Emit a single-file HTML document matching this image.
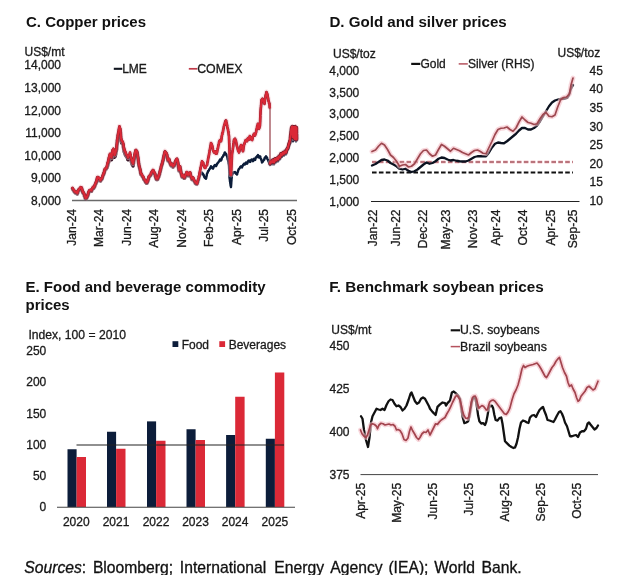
<!DOCTYPE html>
<html><head><meta charset="utf-8"><title>Commodity prices</title>
<style>html,body{margin:0;padding:0;background:#fff;}body{width:640px;height:575px;overflow:hidden;}svg{display:block;filter:blur(0.35px);}text{font-family:"Liberation Sans",sans-serif;fill:#1a1a1a;stroke:#1a1a1a;stroke-width:0.3px;}.t{font-weight:bold;font-size:15px;fill:#111;stroke:none;}.a{font-size:12px;}.s{font-size:15.7px;fill:#111;stroke:#111;stroke-width:0.3px;}</style></head><body>
<svg width="640" height="575" viewBox="0 0 640 575">
<rect width="640" height="575" fill="#ffffff"/>
<text x="26" y="27" class="t" text-anchor="start" >C. Copper prices</text>
<text x="24.5" y="55.5" class="a" text-anchor="start" >US$/mt</text>
<text x="61" y="69.3" class="a" text-anchor="end" >14,000</text>
<text x="61" y="91.9" class="a" text-anchor="end" >13,000</text>
<text x="61" y="114.5" class="a" text-anchor="end" >12,000</text>
<text x="61" y="137.10000000000002" class="a" text-anchor="end" >11,000</text>
<text x="61" y="159.7" class="a" text-anchor="end" >10,000</text>
<text x="61" y="182.3" class="a" text-anchor="end" >9,000</text>
<text x="61" y="204.90000000000003" class="a" text-anchor="end" >8,000</text>
<line x1="72" y1="200.6" x2="297" y2="200.6" stroke="#6a6a6a" stroke-width="1.5"/>
<path d="M72.50,188.75 L72.88,189.42 L73.25,190.09 L73.62,190.66 L74.00,190.75 L74.38,191.87 L74.75,192.09 L75.12,192.84 L75.50,192.75 L76.00,192.42 L76.50,193.37 L77.00,193.75 L77.25,193.87 L77.50,192.96 L77.75,192.81 L78.00,191.21 L78.25,191.21 L78.50,190.75 L78.88,189.90 L79.25,189.81 L79.62,189.35 L80.00,188.75 L80.75,187.82 L81.50,188.25 L81.67,188.44 L81.83,189.11 L82.00,190.58 L82.17,190.96 L82.33,190.69 L82.50,191.75 L82.80,192.72 L83.10,192.34 L83.40,193.56 L83.70,193.43 L84.00,194.50 L84.20,194.35 L84.40,196.12 L84.60,195.74 L84.80,196.30 L85.00,197.25 L85.33,198.43 L85.67,198.77 L86.00,198.75 L86.30,197.96 L86.60,198.40 L86.90,197.30 L87.20,197.00 L87.50,196.25 L87.67,195.25 L87.83,195.70 L88.00,194.77 L88.17,194.57 L88.33,193.88 L88.50,192.75 L88.88,191.97 L89.25,191.56 L89.62,190.78 L90.00,190.75 L90.75,190.50 L91.50,191.25 L91.75,190.02 L92.00,189.72 L92.25,189.52 L92.50,188.75 L93.00,187.72 L93.50,188.33 L94.00,187.75 L94.25,186.90 L94.50,186.23 L94.75,186.32 L95.00,185.25 L95.25,184.68 L95.50,183.91 L95.75,183.60 L96.00,183.37 L96.25,181.92 L96.50,182.00 L96.64,182.06 L96.79,180.12 L96.93,180.53 L97.07,180.05 L97.21,178.29 L97.36,178.76 L97.50,177.75 L98.00,177.90 L98.50,178.53 L99.00,178.75 L99.25,178.56 L99.50,179.12 L99.75,179.80 L100.00,180.75 L100.50,180.97 L101.00,179.49 L101.50,179.50 L101.75,179.23 L102.00,178.85 L102.25,178.24 L102.50,177.00 L102.71,176.25 L102.93,175.73 L103.14,175.43 L103.36,175.24 L103.57,173.77 L103.79,174.13 L104.00,173.25 L104.14,173.13 L104.29,172.68 L104.43,170.99 L104.57,171.73 L104.71,170.00 L104.86,169.81 L105.00,169.50 L105.50,169.24 L106.00,169.25 L106.50,168.25 L106.75,167.46 L107.00,167.72 L107.25,166.63 L107.50,166.00 L107.64,165.20 L107.79,164.67 L107.93,163.94 L108.07,163.27 L108.21,162.83 L108.36,163.05 L108.50,162.25 L108.61,162.39 L108.72,160.67 L108.83,159.95 L108.94,160.71 L109.06,159.52 L109.17,158.78 L109.28,157.99 L109.39,157.94 L109.50,157.25 L110.00,157.21 L110.50,156.25 L110.67,156.77 L110.83,157.31 L111.00,157.38 L111.17,159.17 L111.33,158.51 L111.50,159.75 L111.58,159.16 L111.65,159.07 L111.73,157.50 L111.81,157.77 L111.88,157.50 L111.96,156.47 L112.04,156.11 L112.12,154.58 L112.19,154.47 L112.27,153.49 L112.35,153.89 L112.42,152.54 L112.50,152.25 L113.00,151.56 L113.50,151.00 L113.59,152.27 L113.68,152.63 L113.77,153.37 L113.86,153.21 L113.95,153.82 L114.05,154.73 L114.14,154.95 L114.23,155.25 L114.32,155.98 L114.41,156.19 L114.50,157.25 L114.75,156.45 L115.00,156.68 L115.25,156.02 L115.50,154.75 L115.61,154.37 L115.72,153.64 L115.83,152.86 L115.94,151.95 L116.06,151.65 L116.17,151.81 L116.28,151.38 L116.39,150.11 L116.50,149.75 L116.56,149.59 L116.61,149.02 L116.67,148.36 L116.72,147.76 L116.78,147.34 L116.83,146.23 L116.89,146.15 L116.94,145.00 L117.00,144.73 L117.06,144.57 L117.11,143.91 L117.17,142.79 L117.22,143.15 L117.28,142.18 L117.33,141.53 L117.39,140.18 L117.44,140.37 L117.50,139.75 L117.59,138.83 L117.68,138.85 L117.77,137.99 L117.86,137.92 L117.95,137.12 L118.05,136.76 L118.14,135.56 L118.23,135.41 L118.32,134.97 L118.41,134.53 L118.50,133.50 L118.61,132.73 L118.72,132.87 L118.83,132.35 L118.94,131.54 L119.06,131.39 L119.17,130.81 L119.28,129.64 L119.39,129.10 L119.50,128.50 L119.64,128.57 L119.79,130.04 L119.93,130.72 L120.07,130.61 L120.21,131.45 L120.36,132.02 L120.50,132.25 L120.53,133.16 L120.57,132.96 L120.60,134.39 L120.63,134.70 L120.67,135.40 L120.70,135.64 L120.73,136.51 L120.77,137.30 L120.80,137.69 L120.83,138.39 L120.87,138.01 L120.90,138.77 L120.93,139.75 L120.97,140.63 L121.00,141.00 L121.25,141.23 L121.50,142.51 L121.75,143.06 L122.00,143.50 L122.50,143.48 L123.00,144.75 L123.09,145.28 L123.18,145.50 L123.27,145.83 L123.36,146.51 L123.45,147.34 L123.55,147.71 L123.64,148.30 L123.73,148.65 L123.82,149.82 L123.91,150.26 L124.00,151.00 L124.25,151.78 L124.50,152.38 L124.75,152.51 L125.00,153.50 L125.25,154.69 L125.50,154.05 L125.75,155.24 L126.00,156.00 L126.50,156.31 L127.00,157.25 L127.25,157.75 L127.50,157.96 L127.75,159.59 L128.00,159.75 L128.25,158.95 L128.50,157.85 L128.75,158.03 L129.00,157.25 L129.25,156.06 L129.50,156.06 L129.75,155.15 L130.00,154.75 L130.11,155.42 L130.22,156.50 L130.33,156.86 L130.44,156.86 L130.56,157.97 L130.67,158.28 L130.78,158.46 L130.89,158.69 L131.00,159.75 L131.14,160.42 L131.29,160.91 L131.43,162.00 L131.57,162.55 L131.71,162.58 L131.86,162.76 L132.00,163.50 L132.25,164.68 L132.50,164.05 L132.75,164.83 L133.00,166.00 L133.09,165.52 L133.18,165.02 L133.27,163.79 L133.36,163.91 L133.45,163.71 L133.55,162.42 L133.64,161.93 L133.73,161.07 L133.82,160.59 L133.91,160.98 L134.00,159.75 L134.11,159.03 L134.22,159.28 L134.33,158.66 L134.44,157.66 L134.56,156.64 L134.67,157.09 L134.78,155.86 L134.89,155.19 L135.00,154.75 L135.14,153.93 L135.29,154.29 L135.43,153.02 L135.57,152.17 L135.71,151.86 L135.86,150.79 L136.00,150.75 L136.50,151.55 L137.00,152.00 L137.09,152.49 L137.18,152.85 L137.27,154.10 L137.36,154.73 L137.45,154.16 L137.55,155.45 L137.64,155.66 L137.73,157.15 L137.82,157.51 L137.91,157.33 L138.00,158.25 L138.08,158.50 L138.15,158.92 L138.23,160.67 L138.31,160.27 L138.38,161.29 L138.46,161.68 L138.54,162.49 L138.62,163.01 L138.69,163.78 L138.77,163.48 L138.85,164.96 L138.92,164.89 L139.00,165.75 L139.14,166.33 L139.29,166.59 L139.43,167.07 L139.57,167.93 L139.71,168.38 L139.86,168.77 L140.00,169.50 L140.11,170.40 L140.22,170.74 L140.33,170.52 L140.44,171.38 L140.56,172.22 L140.67,173.42 L140.78,173.93 L140.89,174.01 L141.00,174.50 L141.50,174.45 L142.00,175.75 L142.50,176.76 L143.00,177.00 L143.25,177.52 L143.50,178.36 L143.75,179.17 L144.00,179.50 L144.50,180.31 L145.00,180.75 L145.30,181.22 L145.60,182.33 L145.90,182.09 L146.20,182.60 L146.50,183.25 L147.00,183.12 L147.50,182.00 L147.67,181.02 L147.83,180.60 L148.00,180.80 L148.17,179.17 L148.33,179.69 L148.50,178.94 L148.67,178.02 L148.83,177.26 L149.00,177.00 L149.50,176.77 L150.00,175.75 L150.50,175.70 L151.00,174.50 L151.25,173.37 L151.50,173.22 L151.75,172.69 L152.00,172.00 L152.50,171.37 L153.00,170.75 L153.25,171.01 L153.50,171.26 L153.75,172.37 L154.00,172.75 L154.33,173.77 L154.67,173.31 L155.00,174.50 L155.14,174.66 L155.29,176.02 L155.43,176.52 L155.57,176.87 L155.71,176.51 L155.86,178.03 L156.00,178.25 L156.50,179.55 L157.00,179.50 L157.50,179.57 L158.00,178.25 L158.25,177.91 L158.50,176.37 L158.75,176.85 L159.00,175.75 L159.14,174.82 L159.29,174.88 L159.43,174.78 L159.57,173.90 L159.71,172.56 L159.86,172.25 L160.00,172.00 L160.14,172.05 L160.29,170.44 L160.43,170.55 L160.57,169.74 L160.71,168.85 L160.86,168.96 L161.00,168.25 L161.14,167.08 L161.29,166.63 L161.43,166.47 L161.57,165.51 L161.71,164.95 L161.86,165.14 L162.00,164.50 L162.14,164.30 L162.29,163.96 L162.43,162.38 L162.57,162.26 L162.71,161.56 L162.86,161.43 L163.00,160.75 L163.11,160.18 L163.22,160.25 L163.33,158.91 L163.44,157.91 L163.56,158.25 L163.67,156.93 L163.78,157.04 L163.89,156.31 L164.00,155.75 L164.14,155.79 L164.29,154.76 L164.43,154.31 L164.57,153.28 L164.71,153.14 L164.86,152.19 L165.00,152.00 L165.50,152.98 L166.00,153.25 L166.25,153.90 L166.50,153.99 L166.75,154.75 L167.00,155.75 L167.11,156.13 L167.22,157.19 L167.33,156.97 L167.44,158.27 L167.56,158.74 L167.67,158.50 L167.78,159.87 L167.89,159.62 L168.00,160.75 L168.50,159.60 L169.00,159.50 L169.14,160.17 L169.29,160.21 L169.43,161.63 L169.57,161.62 L169.71,161.93 L169.86,163.13 L170.00,163.25 L170.25,163.22 L170.50,164.82 L170.75,164.50 L171.00,165.75 L171.50,164.64 L172.00,164.50 L172.25,165.76 L172.50,166.00 L172.75,165.99 L173.00,167.00 L173.50,165.84 L174.00,165.75 L174.25,165.79 L174.50,164.73 L174.75,164.32 L175.00,163.25 L175.25,162.12 L175.50,162.17 L175.75,161.17 L176.00,160.75 L176.50,159.75 L177.00,159.50 L177.14,159.80 L177.29,160.73 L177.43,160.90 L177.57,161.48 L177.71,161.67 L177.86,163.18 L178.00,163.25 L178.08,164.03 L178.15,164.83 L178.23,164.89 L178.31,166.05 L178.38,166.16 L178.46,166.84 L178.54,167.39 L178.62,168.20 L178.69,168.30 L178.77,168.46 L178.85,168.94 L178.92,169.76 L179.00,170.75 L179.14,169.57 L179.29,170.22 L179.43,169.12 L179.57,168.97 L179.71,167.37 L179.86,167.49 L180.00,167.00 L180.09,168.11 L180.18,168.30 L180.27,168.60 L180.36,169.22 L180.45,169.28 L180.55,169.93 L180.64,170.50 L180.73,171.37 L180.82,171.95 L180.91,173.21 L181.00,173.25 L181.14,173.30 L181.29,173.98 L181.43,174.55 L181.57,174.92 L181.71,175.63 L181.86,176.09 L182.00,177.00 L182.50,176.35 L183.00,175.75 L183.25,175.72 L183.50,177.59 L183.75,177.44 L184.00,178.25 L184.50,178.24 L185.00,177.00 L185.25,176.64 L185.50,175.99 L185.75,175.09 L186.00,174.50 L186.33,174.54 L186.67,172.80 L187.00,172.75 L187.20,173.59 L187.40,173.66 L187.60,174.79 L187.80,175.47 L188.00,175.75 L188.50,174.65 L189.00,174.50 L189.50,173.46 L190.00,173.25 L190.14,173.12 L190.29,173.94 L190.43,174.27 L190.57,175.25 L190.71,176.59 L190.86,176.27 L191.00,177.00 L191.25,177.36 L191.50,178.21 L191.75,178.57 L192.00,179.50 L192.50,179.20 L193.00,178.25 L193.25,179.18 L193.50,179.03 L193.75,179.76 L194.00,180.75 L194.50,181.62 L195.00,182.00 L195.33,183.20 L195.67,183.37 L196.00,183.75" fill="none" stroke="#3a1426" stroke-width="3.5" stroke-linejoin="round" stroke-linecap="round"/>
<path d="M196.00,183.75 L196.50,183.81 L197.00,184.50 L197.25,184.05 L197.50,183.34 L197.75,183.12 L198.00,182.50 L198.14,182.12 L198.29,180.91 L198.43,180.31 L198.57,180.76 L198.71,179.53 L198.86,178.97 L199.00,178.75 L199.14,178.81 L199.29,177.64 L199.43,177.55 L199.57,176.58 L199.71,176.24 L199.86,175.12 L200.00,175.00 L200.50,174.54 L201.00,173.75 L201.50,173.57 L202.00,172.50 L202.50,173.15 L203.00,173.75 L203.25,174.66 L203.50,175.21 L203.75,175.10 L204.00,176.25 L204.33,177.14 L204.67,177.53 L205.00,178.00 L205.50,178.14 L206.00,178.75 L206.11,177.63 L206.22,178.08 L206.33,177.05 L206.44,176.79 L206.56,176.43 L206.67,175.67 L206.78,175.37 L206.89,174.18 L207.00,173.75 L207.25,173.49 L207.50,172.43 L207.75,172.40 L208.00,171.25 L208.50,171.08 L209.00,170.00 L209.50,168.89 L210.00,168.75 L210.25,167.69 L210.50,167.16 L210.75,167.43 L211.00,166.25 L211.50,166.80 L212.00,167.50 L212.50,168.28 L213.00,168.75 L213.25,167.89 L213.50,167.51 L213.75,166.74 L214.00,166.25 L214.50,165.45 L215.00,165.00 L215.50,165.73 L216.00,166.25 L216.25,165.73 L216.50,165.49 L216.75,164.59 L217.00,163.75 L217.50,163.64 L218.00,162.50 L218.50,162.30 L219.00,161.25 L219.33,161.26 L219.67,160.29 L220.00,159.50 L220.50,159.60 L221.00,160.50 L221.20,160.33 L221.40,159.86 L221.60,159.19 L221.80,158.18 L222.00,157.50 L222.50,157.13 L223.00,156.25 L223.33,155.32 L223.67,155.48 L224.00,154.50 L224.25,154.09 L224.50,153.24 L224.75,152.48 L225.00,152.50 L225.50,153.55 L226.00,153.75 L226.25,154.96 L226.50,154.51 L226.75,155.99 L227.00,156.25 L227.14,156.68 L227.29,156.90 L227.43,157.61 L227.57,158.72 L227.71,159.38 L227.86,158.92 L228.00,160.00 L228.11,160.69 L228.22,160.57 L228.33,161.93 L228.44,162.02 L228.56,163.23 L228.67,163.91 L228.78,163.90 L228.89,165.04 L229.00,165.00 L229.02,165.34 L229.05,165.63 L229.07,166.82 L229.09,166.71 L229.11,167.48 L229.14,168.30 L229.16,169.11 L229.18,169.13 L229.20,169.56 L229.23,171.12 L229.25,171.03 L229.27,172.37 L229.30,172.86 L229.32,172.81 L229.34,173.48 L229.36,174.11 L229.39,174.83 L229.41,175.34 L229.43,175.87 L229.45,176.51 L229.48,177.46 L229.50,177.50 L229.58,178.09 L229.65,178.57 L229.73,179.50 L229.81,179.49 L229.88,180.15 L229.96,181.53 L230.04,181.56 L230.12,182.17 L230.19,182.11 L230.27,183.17 L230.35,183.94 L230.42,183.85 L230.50,185.00 L230.67,185.81 L230.83,186.49 L231.00,187.00 L231.04,185.89 L231.08,185.99 L231.12,185.21 L231.17,184.88 L231.21,183.91 L231.25,183.75 L231.29,183.20 L231.33,181.76 L231.38,181.22 L231.42,181.38 L231.46,181.14 L231.50,180.00 L231.56,179.15 L231.61,178.84 L231.67,178.44 L231.72,177.56 L231.78,177.06 L231.83,176.44 L231.89,175.95 L231.94,175.67 L232.00,175.00 L232.25,174.26 L232.50,173.85 L232.75,173.83 L233.00,173.00 L233.50,172.18 L234.00,172.50 L234.50,172.33 L235.00,172.00 L235.33,172.87 L235.67,172.94 L236.00,173.75 L236.50,173.79 L237.00,174.50 L237.17,174.32 L237.33,173.10 L237.50,172.50 L237.67,172.26 L237.83,172.03 L238.00,171.25 L238.25,170.15 L238.50,169.79 L238.75,169.18 L239.00,168.75 L239.50,168.53 L240.00,167.50 L240.50,166.80 L241.00,166.25 L241.50,167.30 L242.00,167.50 L242.25,166.48 L242.50,166.05 L242.75,165.81 L243.00,165.00 L243.50,164.84 L244.00,163.75 L244.50,164.07 L245.00,164.50 L245.25,163.67 L245.50,163.05 L245.75,163.04 L246.00,162.50 L246.50,162.75 L247.00,163.75 L247.25,163.49 L247.50,162.91 L247.75,161.50 L248.00,161.25 L248.50,160.61 L249.00,160.50 L249.33,161.37 L249.67,161.67 L250.00,162.00 L250.25,161.87 L250.50,160.81 L250.75,160.06 L251.00,160.00 L251.50,159.50 L252.00,159.50 L252.33,160.44 L252.67,160.39 L253.00,161.25 L253.25,160.44 L253.50,159.90 L253.75,159.28 L254.00,158.75 L254.50,159.27 L255.00,160.00 L255.25,159.88 L255.50,158.34 L255.75,157.53 L256.00,157.50 L256.50,157.41 L257.00,156.25 L257.50,156.08 L258.00,155.00 L258.25,156.21 L258.50,156.17 L258.75,157.42 L259.00,157.50 L259.50,157.39 L260.00,156.25 L260.25,156.54 L260.50,157.79 L260.75,158.53 L261.00,158.75 L261.14,159.48 L261.29,159.84 L261.43,160.10 L261.57,160.70 L261.71,161.10 L261.86,161.45 L262.00,162.50 L262.50,161.98 L263.00,161.25 L263.50,160.37 L264.00,160.00 L264.25,159.75 L264.50,158.20 L264.75,158.61 L265.00,157.50 L265.50,157.11 L266.00,156.25 L266.50,157.38 L267.00,157.50 L267.25,158.60 L267.50,159.23 L267.75,159.47 L268.00,160.00 L268.25,160.04 L268.50,161.54 L268.75,161.48 L269.00,162.50 L269.25,162.88 L269.50,163.95 L269.75,164.40 L270.00,165.00 L270.25,164.40 L270.50,164.53 L270.75,163.63 L271.00,163.00 L271.50,163.43 L272.00,164.25 L272.25,163.33 L272.50,163.43 L272.75,162.35 L273.00,161.75 L273.25,162.71 L273.50,162.82 L273.75,163.26 L274.00,164.25 L274.14,163.76 L274.29,163.56 L274.43,162.25 L274.57,162.46 L274.71,162.08 L274.86,161.40 L275.00,160.50 L275.33,161.47 L275.67,161.08 L276.00,162.25 L276.25,161.78 L276.50,161.44 L276.75,159.83 L277.00,159.75 L277.33,159.98 L277.67,160.47 L278.00,161.25 L278.17,160.74 L278.33,160.07 L278.50,159.59 L278.67,159.42 L278.83,157.94 L279.00,158.00 L279.50,158.09 L280.00,159.25 L280.14,158.27 L280.29,157.73 L280.43,157.12 L280.57,157.68 L280.71,157.00 L280.86,155.54 L281.00,155.50 L281.50,156.13 L282.00,156.75 L282.25,155.90 L282.50,155.28 L282.75,154.70 L283.00,154.25 L283.50,155.05 L284.00,155.50 L284.25,154.98 L284.50,154.08 L284.75,153.25 L285.00,153.00 L285.50,153.42 L286.00,154.25 L286.17,153.22 L286.33,153.15 L286.50,152.76 L286.67,151.77 L286.83,150.83 L287.00,150.75 L287.50,149.74 L288.00,149.50 L288.17,148.81 L288.33,148.54 L288.50,148.21 L288.67,147.19 L288.83,147.15 L289.00,146.25 L289.25,145.77 L289.50,144.92 L289.75,144.22 L290.00,143.75 L290.25,143.12 L290.50,142.74 L290.75,141.78 L291.00,141.25 L291.50,140.86 L292.00,140.00 L292.50,140.58 L293.00,141.25 L293.25,140.32 L293.50,140.04 L293.75,139.61 L294.00,138.75 L294.50,138.86 L295.00,140.00 L295.50,140.53 L296.00,141.25 L296.50,140.54 L297.00,140.00" fill="none" stroke="#0c1d3a" stroke-width="2.4" stroke-linejoin="round" stroke-linecap="round"/>
<path d="M72.50,188.00 L72.88,188.67 L73.25,189.34 L73.62,189.91 L74.00,190.00 L74.38,191.12 L74.75,191.34 L75.12,192.09 L75.50,192.00 L76.00,191.67 L76.50,192.62 L77.00,193.00 L77.25,193.12 L77.50,192.21 L77.75,192.06 L78.00,190.46 L78.25,190.46 L78.50,190.00 L78.88,189.15 L79.25,189.06 L79.62,188.60 L80.00,188.00 L80.75,187.07 L81.50,187.50 L81.67,187.69 L81.83,188.36 L82.00,189.83 L82.17,190.21 L82.33,189.94 L82.50,191.00 L82.80,191.97 L83.10,191.59 L83.40,192.81 L83.70,192.68 L84.00,193.75 L84.20,193.60 L84.40,195.37 L84.60,194.99 L84.80,195.55 L85.00,196.50 L85.33,197.68 L85.67,198.02 L86.00,198.00 L86.30,197.21 L86.60,197.65 L86.90,196.55 L87.20,196.25 L87.50,195.50 L87.67,194.50 L87.83,194.95 L88.00,194.02 L88.17,193.82 L88.33,193.13 L88.50,192.00 L88.88,191.22 L89.25,190.81 L89.62,190.03 L90.00,190.00 L90.75,189.75 L91.50,190.50 L91.75,189.27 L92.00,188.97 L92.25,188.77 L92.50,188.00 L93.00,186.97 L93.50,187.58 L94.00,187.00 L94.25,186.15 L94.50,185.48 L94.75,185.57 L95.00,184.50 L95.25,183.93 L95.50,183.16 L95.75,182.85 L96.00,182.62 L96.25,181.17 L96.50,181.25 L96.64,181.31 L96.79,179.37 L96.93,179.78 L97.07,179.30 L97.21,177.54 L97.36,178.01 L97.50,177.00 L98.00,177.15 L98.50,177.78 L99.00,178.00 L99.25,177.81 L99.50,178.37 L99.75,179.05 L100.00,180.00 L100.50,180.22 L101.00,178.74 L101.50,178.75 L101.75,178.48 L102.00,178.10 L102.25,177.49 L102.50,176.25 L102.71,175.50 L102.93,174.98 L103.14,174.68 L103.36,174.49 L103.57,173.02 L103.79,173.38 L104.00,172.50 L104.14,172.38 L104.29,171.93 L104.43,170.24 L104.57,170.98 L104.71,169.25 L104.86,169.06 L105.00,168.75 L105.50,168.49 L106.00,168.50 L106.50,167.50 L106.64,166.74 L106.79,167.02 L106.93,165.96 L107.07,165.09 L107.21,164.56 L107.36,163.83 L107.50,163.75 L107.64,162.62 L107.79,162.19 L107.93,162.41 L108.07,162.30 L108.21,160.60 L108.36,159.90 L108.50,160.00 L108.61,160.13 L108.72,158.94 L108.83,158.20 L108.94,157.41 L109.06,157.35 L109.17,157.12 L109.28,156.05 L109.39,155.45 L109.50,155.00 L110.00,153.88 L110.50,154.00 L110.67,155.17 L110.83,154.51 L111.00,155.74 L111.17,156.81 L111.33,156.40 L111.50,157.50 L111.58,157.25 L111.65,156.98 L111.73,155.95 L111.81,155.60 L111.88,154.06 L111.96,153.95 L112.04,152.97 L112.12,153.37 L112.19,152.02 L112.27,151.67 L112.35,151.85 L112.42,151.07 L112.50,150.00 L113.00,150.04 L113.50,148.75 L113.59,149.25 L113.68,149.87 L113.77,150.78 L113.86,150.99 L113.95,151.30 L114.05,152.02 L114.14,152.23 L114.23,153.12 L114.32,154.55 L114.41,155.08 L114.50,155.00 L114.75,154.55 L115.00,153.75 L115.25,152.90 L115.50,152.50 L115.61,151.37 L115.72,151.07 L115.83,151.23 L115.94,150.79 L116.06,149.53 L116.17,149.57 L116.28,149.00 L116.39,148.33 L116.50,147.50 L116.56,147.17 L116.61,146.75 L116.67,145.64 L116.72,145.56 L116.78,144.42 L116.83,144.15 L116.89,143.99 L116.94,143.32 L117.00,142.21 L117.06,142.57 L117.11,141.60 L117.17,140.95 L117.22,139.59 L117.28,139.79 L117.33,138.82 L117.39,138.85 L117.44,138.00 L117.50,137.50 L117.59,137.38 L117.68,136.57 L117.77,136.21 L117.86,135.01 L117.95,134.86 L118.05,134.42 L118.14,133.98 L118.23,132.74 L118.32,132.87 L118.41,132.34 L118.50,131.25 L118.61,130.96 L118.72,130.81 L118.83,130.22 L118.94,129.05 L119.06,128.51 L119.17,127.45 L119.28,127.83 L119.39,127.42 L119.50,126.25 L119.64,126.75 L119.79,127.59 L119.93,128.16 L120.07,128.72 L120.21,128.47 L120.36,129.86 L120.50,130.00 L120.53,130.70 L120.57,131.40 L120.60,131.64 L120.63,132.51 L120.67,133.30 L120.70,133.69 L120.73,134.39 L120.77,134.01 L120.80,134.77 L120.83,135.75 L120.87,136.63 L120.90,136.61 L120.93,137.84 L120.97,138.35 L121.00,138.75 L121.25,138.73 L121.50,139.96 L121.75,140.24 L122.00,141.25 L122.50,141.25 L123.00,142.50 L123.09,142.56 L123.18,143.38 L123.27,143.76 L123.36,144.34 L123.45,144.69 L123.55,145.86 L123.64,146.31 L123.73,147.20 L123.82,147.74 L123.91,147.81 L124.00,148.75 L124.25,149.94 L124.50,149.30 L124.75,150.49 L125.00,151.25 L125.25,151.56 L125.50,152.37 L125.75,152.59 L126.00,153.75 L126.50,154.84 L127.00,155.00 L127.25,155.45 L127.50,155.60 L127.75,157.03 L128.00,157.50 L128.25,156.31 L128.50,156.31 L128.75,155.40 L129.00,155.00 L129.25,154.49 L129.50,154.39 L129.75,153.57 L130.00,152.50 L130.11,152.94 L130.22,154.05 L130.33,154.37 L130.44,154.54 L130.56,154.78 L130.67,155.97 L130.78,156.48 L130.89,157.58 L131.00,157.50 L131.14,158.69 L131.29,158.72 L131.43,158.90 L131.57,160.19 L131.71,159.48 L131.86,160.17 L132.00,161.25 L132.25,161.97 L132.50,162.66 L132.75,162.62 L133.00,163.75 L133.09,163.36 L133.18,163.16 L133.27,161.87 L133.36,161.38 L133.45,160.53 L133.55,160.05 L133.64,160.43 L133.73,159.04 L133.82,159.28 L133.91,158.65 L134.00,157.50 L134.11,157.08 L134.22,156.05 L134.33,156.51 L134.44,155.27 L134.56,154.60 L134.67,153.91 L134.78,154.29 L134.89,153.04 L135.00,152.50 L135.25,151.58 L135.50,151.22 L135.75,150.10 L136.00,150.00 L136.50,150.80 L137.00,151.25 L137.09,151.74 L137.18,152.10 L137.27,153.35 L137.36,153.98 L137.45,153.41 L137.55,154.70 L137.64,154.91 L137.73,156.40 L137.82,156.76 L137.91,156.58 L138.00,157.50 L138.08,157.75 L138.15,158.17 L138.23,159.92 L138.31,159.52 L138.38,160.54 L138.46,160.93 L138.54,161.74 L138.62,162.26 L138.69,163.03 L138.77,162.73 L138.85,164.21 L138.92,164.14 L139.00,165.00 L139.14,165.58 L139.29,165.84 L139.43,166.32 L139.57,167.18 L139.71,167.63 L139.86,168.02 L140.00,168.75 L140.11,169.65 L140.22,169.99 L140.33,169.77 L140.44,170.63 L140.56,171.47 L140.67,172.67 L140.78,173.18 L140.89,173.26 L141.00,173.75 L141.50,173.70 L142.00,175.00 L142.50,176.01 L143.00,176.25 L143.25,176.77 L143.50,177.61 L143.75,178.42 L144.00,178.75 L144.50,179.56 L145.00,180.00 L145.30,180.47 L145.60,181.58 L145.90,181.34 L146.20,181.85 L146.50,182.50 L147.00,182.37 L147.50,181.25 L147.67,180.27 L147.83,179.85 L148.00,180.05 L148.17,178.42 L148.33,178.94 L148.50,178.19 L148.67,177.27 L148.83,176.51 L149.00,176.25 L149.50,176.02 L150.00,175.00 L150.50,174.95 L151.00,173.75 L151.25,172.62 L151.50,172.47 L151.75,171.94 L152.00,171.25 L152.50,170.62 L153.00,170.00 L153.25,170.26 L153.50,170.51 L153.75,171.62 L154.00,172.00 L154.33,173.02 L154.67,172.56 L155.00,173.75 L155.14,173.91 L155.29,175.27 L155.43,175.77 L155.57,176.12 L155.71,175.76 L155.86,177.28 L156.00,177.50 L156.50,178.80 L157.00,178.75 L157.50,178.82 L158.00,177.50 L158.25,177.16 L158.50,175.62 L158.75,176.10 L159.00,175.00 L159.14,174.07 L159.29,174.13 L159.43,174.03 L159.57,173.15 L159.71,171.81 L159.86,171.50 L160.00,171.25 L160.14,171.30 L160.29,169.69 L160.43,169.80 L160.57,168.99 L160.71,168.10 L160.86,168.21 L161.00,167.50 L161.14,166.33 L161.29,165.88 L161.43,165.72 L161.57,164.76 L161.71,164.20 L161.86,164.39 L162.00,163.75 L162.14,163.55 L162.29,163.21 L162.43,161.63 L162.57,161.51 L162.71,160.81 L162.86,160.68 L163.00,160.00 L163.11,159.43 L163.22,159.50 L163.33,158.16 L163.44,157.16 L163.56,157.50 L163.67,156.18 L163.78,156.29 L163.89,155.56 L164.00,155.00 L164.14,155.04 L164.29,154.01 L164.43,153.56 L164.57,152.53 L164.71,152.39 L164.86,151.44 L165.00,151.25 L165.50,152.23 L166.00,152.50 L166.25,153.15 L166.50,153.24 L166.75,154.00 L167.00,155.00 L167.11,155.38 L167.22,156.44 L167.33,156.22 L167.44,157.52 L167.56,157.99 L167.67,157.75 L167.78,159.12 L167.89,158.87 L168.00,160.00 L168.50,158.85 L169.00,158.75 L169.14,159.42 L169.29,159.46 L169.43,160.88 L169.57,160.87 L169.71,161.18 L169.86,162.38 L170.00,162.50 L170.25,162.47 L170.50,164.07 L170.75,163.75 L171.00,165.00 L171.50,163.89 L172.00,163.75 L172.25,165.01 L172.50,165.25 L172.75,165.24 L173.00,166.25 L173.50,165.09 L174.00,165.00 L174.25,165.04 L174.50,163.98 L174.75,163.57 L175.00,162.50 L175.25,161.37 L175.50,161.42 L175.75,160.42 L176.00,160.00 L176.50,159.00 L177.00,158.75 L177.14,159.05 L177.29,159.98 L177.43,160.15 L177.57,160.73 L177.71,160.92 L177.86,162.43 L178.00,162.50 L178.08,163.28 L178.15,164.08 L178.23,164.14 L178.31,165.30 L178.38,165.41 L178.46,166.09 L178.54,166.64 L178.62,167.45 L178.69,167.55 L178.77,167.71 L178.85,168.19 L178.92,169.01 L179.00,170.00 L179.14,168.82 L179.29,169.47 L179.43,168.37 L179.57,168.22 L179.71,166.62 L179.86,166.74 L180.00,166.25 L180.09,167.36 L180.18,167.55 L180.27,167.85 L180.36,168.47 L180.45,168.53 L180.55,169.18 L180.64,169.75 L180.73,170.62 L180.82,171.20 L180.91,172.46 L181.00,172.50 L181.14,172.55 L181.29,173.23 L181.43,173.80 L181.57,174.17 L181.71,174.88 L181.86,175.34 L182.00,176.25 L182.50,175.60 L183.00,175.00 L183.25,174.97 L183.50,176.84 L183.75,176.69 L184.00,177.50 L184.50,177.49 L185.00,176.25 L185.25,175.89 L185.50,175.24 L185.75,174.34 L186.00,173.75 L186.33,173.79 L186.67,172.05 L187.00,172.00 L187.20,172.84 L187.40,172.91 L187.60,174.04 L187.80,174.72 L188.00,175.00 L188.50,173.90 L189.00,173.75 L189.50,172.71 L190.00,172.50 L190.14,172.37 L190.29,173.19 L190.43,173.52 L190.57,174.50 L190.71,175.84 L190.86,175.52 L191.00,176.25 L191.25,176.61 L191.50,177.46 L191.75,177.82 L192.00,178.75 L192.50,178.45 L193.00,177.50 L193.25,178.43 L193.50,178.28 L193.75,179.01 L194.00,180.00 L194.50,180.87 L195.00,181.25 L195.33,182.45 L195.67,182.62 L196.00,183.00 L196.50,183.28 L197.00,183.75 L197.14,183.88 L197.29,181.99 L197.43,181.53 L197.57,182.00 L197.71,180.95 L197.86,179.90 L198.00,180.00 L198.14,179.53 L198.29,179.61 L198.43,178.42 L198.57,177.65 L198.71,176.75 L198.86,176.19 L199.00,176.25 L199.11,176.25 L199.22,175.13 L199.33,175.19 L199.44,173.40 L199.56,173.11 L199.67,172.29 L199.78,172.22 L199.89,171.19 L200.00,171.25 L200.11,170.35 L200.22,170.01 L200.33,169.31 L200.44,168.40 L200.56,167.82 L200.67,168.58 L200.78,166.91 L200.89,166.82 L201.00,166.25 L201.11,165.56 L201.22,165.18 L201.33,164.00 L201.44,163.77 L201.56,162.92 L201.67,162.98 L201.78,162.95 L201.89,161.94 L202.00,161.25 L202.50,162.37 L203.00,162.50 L203.14,162.64 L203.29,162.90 L203.43,164.16 L203.57,164.62 L203.71,165.28 L203.86,165.54 L204.00,166.25 L204.33,167.01 L204.67,167.73 L205.00,168.00 L205.33,167.99 L205.67,166.56 L206.00,166.25 L206.50,165.55 L207.00,165.00 L207.11,164.90 L207.22,163.50 L207.33,162.80 L207.44,162.51 L207.56,161.64 L207.67,162.05 L207.78,161.56 L207.89,160.29 L208.00,160.00 L208.11,158.93 L208.22,158.30 L208.33,157.98 L208.44,157.20 L208.56,157.12 L208.67,156.77 L208.78,155.75 L208.89,154.94 L209.00,155.00 L209.09,154.71 L209.18,153.23 L209.27,152.88 L209.36,152.43 L209.45,151.98 L209.55,151.03 L209.64,150.91 L209.73,150.19 L209.82,150.24 L209.91,149.40 L210.00,148.75 L210.10,148.73 L210.20,147.82 L210.30,147.39 L210.40,146.55 L210.50,145.79 L210.60,145.74 L210.70,144.94 L210.80,144.79 L210.90,143.89 L211.00,143.00 L211.25,143.78 L211.50,143.67 L211.75,144.94 L212.00,145.00 L212.11,145.39 L212.22,145.59 L212.33,146.06 L212.44,146.76 L212.56,147.45 L212.67,148.58 L212.78,148.59 L212.89,148.83 L213.00,150.00 L213.25,150.99 L213.50,151.33 L213.75,151.21 L214.00,152.50 L214.50,151.25 L215.00,151.25 L215.25,151.36 L215.50,152.30 L215.75,153.63 L216.00,153.75 L216.50,153.75 L217.00,152.50 L217.11,152.10 L217.22,151.01 L217.33,150.73 L217.44,150.09 L217.56,149.48 L217.67,148.48 L217.78,148.73 L217.89,148.51 L218.00,147.50 L218.11,147.26 L218.22,145.82 L218.33,145.88 L218.44,144.82 L218.56,145.02 L218.67,144.09 L218.78,144.23 L218.89,143.47 L219.00,142.50 L219.25,141.34 L219.50,140.99 L219.75,141.21 L220.00,140.00 L220.50,140.57 L221.00,141.25 L221.09,140.59 L221.18,140.03 L221.27,139.92 L221.36,139.59 L221.45,138.45 L221.55,138.50 L221.64,137.41 L221.73,136.15 L221.82,136.58 L221.91,135.46 L222.00,135.00 L222.14,133.84 L222.29,134.60 L222.43,132.74 L222.57,132.96 L222.71,132.30 L222.86,132.32 L223.00,131.25 L223.11,130.54 L223.22,129.74 L223.33,129.27 L223.44,128.61 L223.56,128.56 L223.67,127.72 L223.78,127.71 L223.89,126.44 L224.00,126.25 L224.14,125.51 L224.29,124.83 L224.43,125.32 L224.57,124.58 L224.71,124.06 L224.86,123.20 L225.00,122.50 L225.25,121.86 L225.50,121.00 L225.75,121.46 L226.00,120.50 L226.12,121.05 L226.25,120.98 L226.38,121.72 L226.50,122.19 L226.62,123.62 L226.75,124.44 L226.88,124.02 L227.00,125.00 L227.11,125.97 L227.22,125.86 L227.33,126.92 L227.44,127.73 L227.56,127.95 L227.67,128.75 L227.78,128.72 L227.89,128.76 L228.00,130.00 L228.09,130.58 L228.18,131.26 L228.27,131.26 L228.36,132.12 L228.45,132.59 L228.55,132.75 L228.64,133.71 L228.73,134.38 L228.82,135.08 L228.91,135.97 L229.00,136.25 L229.02,136.66 L229.04,138.03 L229.06,138.34 L229.08,139.04 L229.10,139.27 L229.12,139.79 L229.14,140.15 L229.16,141.07 L229.18,141.01 L229.20,141.88 L229.22,142.55 L229.24,142.88 L229.26,143.10 L229.28,143.36 L229.30,143.92 L229.32,144.85 L229.34,145.71 L229.36,146.51 L229.38,147.00 L229.40,146.98 L229.42,148.40 L229.44,148.03 L229.46,149.20 L229.48,148.85 L229.50,150.00 L229.52,150.91 L229.54,151.35 L229.56,152.31 L229.57,152.78 L229.59,153.04 L229.61,153.81 L229.63,154.22 L229.65,154.60 L229.67,154.59 L229.69,155.58 L229.70,156.67 L229.72,156.30 L229.74,157.89 L229.76,157.84 L229.78,158.18 L229.80,158.19 L229.81,159.29 L229.83,159.55 L229.85,160.77 L229.87,161.67 L229.89,162.24 L229.91,162.38 L229.93,162.62 L229.94,162.79 L229.96,164.15 L229.98,164.52 L230.00,165.00 L230.03,165.88 L230.07,165.99 L230.10,167.29 L230.13,166.93 L230.17,167.64 L230.20,168.17 L230.23,169.25 L230.27,170.22 L230.30,169.78 L230.33,171.02 L230.37,171.79 L230.40,171.61 L230.43,171.97 L230.47,173.26 L230.50,173.75 L230.75,174.84 L231.00,175.00 L231.03,174.97 L231.06,174.21 L231.08,173.22 L231.11,172.67 L231.14,172.26 L231.17,172.23 L231.19,170.83 L231.22,170.25 L231.25,170.15 L231.28,170.10 L231.31,168.45 L231.33,167.68 L231.36,167.24 L231.39,167.31 L231.42,166.81 L231.44,165.67 L231.47,165.12 L231.50,165.00 L231.53,164.58 L231.56,164.09 L231.58,163.60 L231.61,163.10 L231.64,161.61 L231.67,161.65 L231.69,161.58 L231.72,161.20 L231.75,159.75 L231.78,159.93 L231.81,159.09 L231.83,158.93 L231.86,157.40 L231.89,157.50 L231.92,157.14 L231.94,156.08 L231.97,155.00 L232.00,155.00 L232.08,153.99 L232.15,153.37 L232.23,152.70 L232.31,152.21 L232.38,152.28 L232.46,150.99 L232.54,151.32 L232.62,150.72 L232.69,150.25 L232.77,149.66 L232.85,148.95 L232.92,148.67 L233.00,147.50 L233.08,147.56 L233.15,146.52 L233.23,146.42 L233.31,144.64 L233.38,144.06 L233.46,143.43 L233.54,143.05 L233.62,142.71 L233.69,142.25 L233.77,141.98 L233.85,141.49 L233.92,139.99 L234.00,140.00 L234.50,139.24 L235.00,138.75 L235.25,139.44 L235.50,139.83 L235.75,140.09 L236.00,141.25 L236.11,141.94 L236.22,142.19 L236.33,143.17 L236.44,143.47 L236.56,144.68 L236.67,145.21 L236.78,144.54 L236.89,146.06 L237.00,146.25 L237.14,147.10 L237.29,147.04 L237.43,147.32 L237.57,148.36 L237.71,148.72 L237.86,149.80 L238.00,150.00 L238.25,151.21 L238.50,151.08 L238.75,151.58 L239.00,152.50 L239.14,151.96 L239.29,151.70 L239.43,151.30 L239.57,150.46 L239.71,149.54 L239.86,149.06 L240.00,148.75 L240.14,148.70 L240.29,147.71 L240.43,146.51 L240.57,146.50 L240.71,145.70 L240.86,145.77 L241.00,145.00 L241.25,145.03 L241.50,145.93 L241.75,146.31 L242.00,147.50 L242.14,148.00 L242.29,149.25 L242.43,149.17 L242.57,149.48 L242.71,150.79 L242.86,150.14 L243.00,151.25 L243.09,150.48 L243.18,150.55 L243.27,148.85 L243.36,149.35 L243.45,148.21 L243.55,147.16 L243.64,146.92 L243.73,146.65 L243.82,145.97 L243.91,145.59 L244.00,145.00 L244.20,143.77 L244.40,143.41 L244.60,143.86 L244.80,142.52 L245.00,142.00 L245.25,141.46 L245.50,140.42 L245.75,140.19 L246.00,140.00 L246.50,141.26 L247.00,141.25 L247.17,140.97 L247.33,140.18 L247.50,139.00 L247.67,138.93 L247.83,138.93 L248.00,138.00 L248.33,138.41 L248.67,139.13 L249.00,139.50 L249.17,139.52 L249.33,138.62 L249.50,138.07 L249.67,136.68 L249.83,136.13 L250.00,136.25 L250.50,137.25 L251.00,137.50 L251.25,138.00 L251.50,139.27 L251.75,139.83 L252.00,140.00 L252.14,140.05 L252.29,138.76 L252.43,139.09 L252.57,138.22 L252.71,137.87 L252.86,136.29 L253.00,136.25 L253.25,136.02 L253.50,134.89 L253.75,135.04 L254.00,133.75 L254.33,135.03 L254.67,134.52 L255.00,135.50 L255.20,134.79 L255.40,133.98 L255.60,133.66 L255.80,132.80 L256.00,132.50 L256.11,132.18 L256.22,130.86 L256.33,130.37 L256.44,130.22 L256.56,129.13 L256.67,129.00 L256.78,129.17 L256.89,128.60 L257.00,127.50 L257.14,126.54 L257.29,125.75 L257.43,126.35 L257.57,126.00 L257.71,124.96 L257.86,123.78 L258.00,123.75 L258.11,123.94 L258.22,125.45 L258.33,126.03 L258.44,125.32 L258.56,126.09 L258.67,126.98 L258.78,127.31 L258.89,128.55 L259.00,128.75 L259.14,128.04 L259.29,128.06 L259.43,126.66 L259.57,126.63 L259.71,126.74 L259.86,125.82 L260.00,125.00 L260.02,123.86 L260.05,123.32 L260.07,123.50 L260.09,122.55 L260.11,121.98 L260.14,121.56 L260.16,121.14 L260.18,121.11 L260.20,119.52 L260.23,119.41 L260.25,118.42 L260.27,118.25 L260.30,117.94 L260.32,116.53 L260.34,116.45 L260.36,116.20 L260.39,114.65 L260.41,115.15 L260.43,114.09 L260.45,113.64 L260.48,113.22 L260.50,112.50 L260.55,112.34 L260.59,110.74 L260.64,110.80 L260.68,109.58 L260.73,109.50 L260.77,108.87 L260.82,107.85 L260.86,107.67 L260.91,107.32 L260.95,107.04 L261.00,106.84 L261.05,105.50 L261.09,105.16 L261.14,104.84 L261.18,104.59 L261.23,104.04 L261.27,103.52 L261.32,102.00 L261.36,101.24 L261.41,101.74 L261.45,99.98 L261.50,100.00 L262.00,99.30 L262.50,98.75 L262.75,99.71 L263.00,100.04 L263.25,100.47 L263.50,101.25 L263.75,102.47 L264.00,102.22 L264.25,103.20 L264.50,103.75 L264.58,103.63 L264.65,102.09 L264.73,101.81 L264.81,101.43 L264.88,100.96 L264.96,99.88 L265.04,99.65 L265.12,98.52 L265.19,97.98 L265.27,97.76 L265.35,96.91 L265.42,97.48 L265.50,96.25 L265.64,95.31 L265.79,94.72 L265.93,94.83 L266.07,94.16 L266.21,92.88 L266.36,93.07 L266.50,92.00 L266.70,92.78 L266.90,93.04 L267.10,93.98 L267.30,94.04 L267.50,95.00 L267.59,95.24 L267.68,96.66 L267.77,96.62 L267.86,97.83 L267.95,97.39 L268.05,97.90 L268.14,98.35 L268.23,99.88 L268.32,100.20 L268.41,100.00 L268.50,101.25 L268.75,101.24 L269.00,102.95 L269.25,103.12 L269.50,103.75 L269.54,104.89 L269.58,104.36 L269.62,105.75 L269.67,105.71 L269.71,107.18 L269.75,107.50" fill="none" stroke="#f3bcc4" stroke-width="5.0" stroke-opacity="0.45" stroke-linejoin="round" stroke-linecap="round"/>
<path d="M72.50,188.00 L72.88,188.67 L73.25,189.34 L73.62,189.91 L74.00,190.00 L74.38,191.12 L74.75,191.34 L75.12,192.09 L75.50,192.00 L76.00,191.67 L76.50,192.62 L77.00,193.00 L77.25,193.12 L77.50,192.21 L77.75,192.06 L78.00,190.46 L78.25,190.46 L78.50,190.00 L78.88,189.15 L79.25,189.06 L79.62,188.60 L80.00,188.00 L80.75,187.07 L81.50,187.50 L81.67,187.69 L81.83,188.36 L82.00,189.83 L82.17,190.21 L82.33,189.94 L82.50,191.00 L82.80,191.97 L83.10,191.59 L83.40,192.81 L83.70,192.68 L84.00,193.75 L84.20,193.60 L84.40,195.37 L84.60,194.99 L84.80,195.55 L85.00,196.50 L85.33,197.68 L85.67,198.02 L86.00,198.00 L86.30,197.21 L86.60,197.65 L86.90,196.55 L87.20,196.25 L87.50,195.50 L87.67,194.50 L87.83,194.95 L88.00,194.02 L88.17,193.82 L88.33,193.13 L88.50,192.00 L88.88,191.22 L89.25,190.81 L89.62,190.03 L90.00,190.00 L90.75,189.75 L91.50,190.50 L91.75,189.27 L92.00,188.97 L92.25,188.77 L92.50,188.00 L93.00,186.97 L93.50,187.58 L94.00,187.00 L94.25,186.15 L94.50,185.48 L94.75,185.57 L95.00,184.50 L95.25,183.93 L95.50,183.16 L95.75,182.85 L96.00,182.62 L96.25,181.17 L96.50,181.25 L96.64,181.31 L96.79,179.37 L96.93,179.78 L97.07,179.30 L97.21,177.54 L97.36,178.01 L97.50,177.00 L98.00,177.15 L98.50,177.78 L99.00,178.00 L99.25,177.81 L99.50,178.37 L99.75,179.05 L100.00,180.00 L100.50,180.22 L101.00,178.74 L101.50,178.75 L101.75,178.48 L102.00,178.10 L102.25,177.49 L102.50,176.25 L102.71,175.50 L102.93,174.98 L103.14,174.68 L103.36,174.49 L103.57,173.02 L103.79,173.38 L104.00,172.50 L104.14,172.38 L104.29,171.93 L104.43,170.24 L104.57,170.98 L104.71,169.25 L104.86,169.06 L105.00,168.75 L105.50,168.49 L106.00,168.50 L106.50,167.50 L106.64,166.74 L106.79,167.02 L106.93,165.96 L107.07,165.09 L107.21,164.56 L107.36,163.83 L107.50,163.75 L107.64,162.62 L107.79,162.19 L107.93,162.41 L108.07,162.30 L108.21,160.60 L108.36,159.90 L108.50,160.00 L108.61,160.13 L108.72,158.94 L108.83,158.20 L108.94,157.41 L109.06,157.35 L109.17,157.12 L109.28,156.05 L109.39,155.45 L109.50,155.00 L110.00,153.88 L110.50,154.00 L110.67,155.17 L110.83,154.51 L111.00,155.74 L111.17,156.81 L111.33,156.40 L111.50,157.50 L111.58,157.25 L111.65,156.98 L111.73,155.95 L111.81,155.60 L111.88,154.06 L111.96,153.95 L112.04,152.97 L112.12,153.37 L112.19,152.02 L112.27,151.67 L112.35,151.85 L112.42,151.07 L112.50,150.00 L113.00,150.04 L113.50,148.75 L113.59,149.25 L113.68,149.87 L113.77,150.78 L113.86,150.99 L113.95,151.30 L114.05,152.02 L114.14,152.23 L114.23,153.12 L114.32,154.55 L114.41,155.08 L114.50,155.00 L114.75,154.55 L115.00,153.75 L115.25,152.90 L115.50,152.50 L115.61,151.37 L115.72,151.07 L115.83,151.23 L115.94,150.79 L116.06,149.53 L116.17,149.57 L116.28,149.00 L116.39,148.33 L116.50,147.50 L116.56,147.17 L116.61,146.75 L116.67,145.64 L116.72,145.56 L116.78,144.42 L116.83,144.15 L116.89,143.99 L116.94,143.32 L117.00,142.21 L117.06,142.57 L117.11,141.60 L117.17,140.95 L117.22,139.59 L117.28,139.79 L117.33,138.82 L117.39,138.85 L117.44,138.00 L117.50,137.50 L117.59,137.38 L117.68,136.57 L117.77,136.21 L117.86,135.01 L117.95,134.86 L118.05,134.42 L118.14,133.98 L118.23,132.74 L118.32,132.87 L118.41,132.34 L118.50,131.25 L118.61,130.96 L118.72,130.81 L118.83,130.22 L118.94,129.05 L119.06,128.51 L119.17,127.45 L119.28,127.83 L119.39,127.42 L119.50,126.25 L119.64,126.75 L119.79,127.59 L119.93,128.16 L120.07,128.72 L120.21,128.47 L120.36,129.86 L120.50,130.00 L120.53,130.70 L120.57,131.40 L120.60,131.64 L120.63,132.51 L120.67,133.30 L120.70,133.69 L120.73,134.39 L120.77,134.01 L120.80,134.77 L120.83,135.75 L120.87,136.63 L120.90,136.61 L120.93,137.84 L120.97,138.35 L121.00,138.75 L121.25,138.73 L121.50,139.96 L121.75,140.24 L122.00,141.25 L122.50,141.25 L123.00,142.50 L123.09,142.56 L123.18,143.38 L123.27,143.76 L123.36,144.34 L123.45,144.69 L123.55,145.86 L123.64,146.31 L123.73,147.20 L123.82,147.74 L123.91,147.81 L124.00,148.75 L124.25,149.94 L124.50,149.30 L124.75,150.49 L125.00,151.25 L125.25,151.56 L125.50,152.37 L125.75,152.59 L126.00,153.75 L126.50,154.84 L127.00,155.00 L127.25,155.45 L127.50,155.60 L127.75,157.03 L128.00,157.50 L128.25,156.31 L128.50,156.31 L128.75,155.40 L129.00,155.00 L129.25,154.49 L129.50,154.39 L129.75,153.57 L130.00,152.50 L130.11,152.94 L130.22,154.05 L130.33,154.37 L130.44,154.54 L130.56,154.78 L130.67,155.97 L130.78,156.48 L130.89,157.58 L131.00,157.50 L131.14,158.69 L131.29,158.72 L131.43,158.90 L131.57,160.19 L131.71,159.48 L131.86,160.17 L132.00,161.25 L132.25,161.97 L132.50,162.66 L132.75,162.62 L133.00,163.75 L133.09,163.36 L133.18,163.16 L133.27,161.87 L133.36,161.38 L133.45,160.53 L133.55,160.05 L133.64,160.43 L133.73,159.04 L133.82,159.28 L133.91,158.65 L134.00,157.50 L134.11,157.08 L134.22,156.05 L134.33,156.51 L134.44,155.27 L134.56,154.60 L134.67,153.91 L134.78,154.29 L134.89,153.04 L135.00,152.50 L135.25,151.58 L135.50,151.22 L135.75,150.10 L136.00,150.00 L136.50,150.80 L137.00,151.25 L137.09,151.74 L137.18,152.10 L137.27,153.35 L137.36,153.98 L137.45,153.41 L137.55,154.70 L137.64,154.91 L137.73,156.40 L137.82,156.76 L137.91,156.58 L138.00,157.50 L138.08,157.75 L138.15,158.17 L138.23,159.92 L138.31,159.52 L138.38,160.54 L138.46,160.93 L138.54,161.74 L138.62,162.26 L138.69,163.03 L138.77,162.73 L138.85,164.21 L138.92,164.14 L139.00,165.00 L139.14,165.58 L139.29,165.84 L139.43,166.32 L139.57,167.18 L139.71,167.63 L139.86,168.02 L140.00,168.75 L140.11,169.65 L140.22,169.99 L140.33,169.77 L140.44,170.63 L140.56,171.47 L140.67,172.67 L140.78,173.18 L140.89,173.26 L141.00,173.75 L141.50,173.70 L142.00,175.00 L142.50,176.01 L143.00,176.25 L143.25,176.77 L143.50,177.61 L143.75,178.42 L144.00,178.75 L144.50,179.56 L145.00,180.00 L145.30,180.47 L145.60,181.58 L145.90,181.34 L146.20,181.85 L146.50,182.50 L147.00,182.37 L147.50,181.25 L147.67,180.27 L147.83,179.85 L148.00,180.05 L148.17,178.42 L148.33,178.94 L148.50,178.19 L148.67,177.27 L148.83,176.51 L149.00,176.25 L149.50,176.02 L150.00,175.00 L150.50,174.95 L151.00,173.75 L151.25,172.62 L151.50,172.47 L151.75,171.94 L152.00,171.25 L152.50,170.62 L153.00,170.00 L153.25,170.26 L153.50,170.51 L153.75,171.62 L154.00,172.00 L154.33,173.02 L154.67,172.56 L155.00,173.75 L155.14,173.91 L155.29,175.27 L155.43,175.77 L155.57,176.12 L155.71,175.76 L155.86,177.28 L156.00,177.50 L156.50,178.80 L157.00,178.75 L157.50,178.82 L158.00,177.50 L158.25,177.16 L158.50,175.62 L158.75,176.10 L159.00,175.00 L159.14,174.07 L159.29,174.13 L159.43,174.03 L159.57,173.15 L159.71,171.81 L159.86,171.50 L160.00,171.25 L160.14,171.30 L160.29,169.69 L160.43,169.80 L160.57,168.99 L160.71,168.10 L160.86,168.21 L161.00,167.50 L161.14,166.33 L161.29,165.88 L161.43,165.72 L161.57,164.76 L161.71,164.20 L161.86,164.39 L162.00,163.75 L162.14,163.55 L162.29,163.21 L162.43,161.63 L162.57,161.51 L162.71,160.81 L162.86,160.68 L163.00,160.00 L163.11,159.43 L163.22,159.50 L163.33,158.16 L163.44,157.16 L163.56,157.50 L163.67,156.18 L163.78,156.29 L163.89,155.56 L164.00,155.00 L164.14,155.04 L164.29,154.01 L164.43,153.56 L164.57,152.53 L164.71,152.39 L164.86,151.44 L165.00,151.25 L165.50,152.23 L166.00,152.50 L166.25,153.15 L166.50,153.24 L166.75,154.00 L167.00,155.00 L167.11,155.38 L167.22,156.44 L167.33,156.22 L167.44,157.52 L167.56,157.99 L167.67,157.75 L167.78,159.12 L167.89,158.87 L168.00,160.00 L168.50,158.85 L169.00,158.75 L169.14,159.42 L169.29,159.46 L169.43,160.88 L169.57,160.87 L169.71,161.18 L169.86,162.38 L170.00,162.50 L170.25,162.47 L170.50,164.07 L170.75,163.75 L171.00,165.00 L171.50,163.89 L172.00,163.75 L172.25,165.01 L172.50,165.25 L172.75,165.24 L173.00,166.25 L173.50,165.09 L174.00,165.00 L174.25,165.04 L174.50,163.98 L174.75,163.57 L175.00,162.50 L175.25,161.37 L175.50,161.42 L175.75,160.42 L176.00,160.00 L176.50,159.00 L177.00,158.75 L177.14,159.05 L177.29,159.98 L177.43,160.15 L177.57,160.73 L177.71,160.92 L177.86,162.43 L178.00,162.50 L178.08,163.28 L178.15,164.08 L178.23,164.14 L178.31,165.30 L178.38,165.41 L178.46,166.09 L178.54,166.64 L178.62,167.45 L178.69,167.55 L178.77,167.71 L178.85,168.19 L178.92,169.01 L179.00,170.00 L179.14,168.82 L179.29,169.47 L179.43,168.37 L179.57,168.22 L179.71,166.62 L179.86,166.74 L180.00,166.25 L180.09,167.36 L180.18,167.55 L180.27,167.85 L180.36,168.47 L180.45,168.53 L180.55,169.18 L180.64,169.75 L180.73,170.62 L180.82,171.20 L180.91,172.46 L181.00,172.50 L181.14,172.55 L181.29,173.23 L181.43,173.80 L181.57,174.17 L181.71,174.88 L181.86,175.34 L182.00,176.25 L182.50,175.60 L183.00,175.00 L183.25,174.97 L183.50,176.84 L183.75,176.69 L184.00,177.50 L184.50,177.49 L185.00,176.25 L185.25,175.89 L185.50,175.24 L185.75,174.34 L186.00,173.75 L186.33,173.79 L186.67,172.05 L187.00,172.00 L187.20,172.84 L187.40,172.91 L187.60,174.04 L187.80,174.72 L188.00,175.00 L188.50,173.90 L189.00,173.75 L189.50,172.71 L190.00,172.50 L190.14,172.37 L190.29,173.19 L190.43,173.52 L190.57,174.50 L190.71,175.84 L190.86,175.52 L191.00,176.25 L191.25,176.61 L191.50,177.46 L191.75,177.82 L192.00,178.75 L192.50,178.45 L193.00,177.50 L193.25,178.43 L193.50,178.28 L193.75,179.01 L194.00,180.00 L194.50,180.87 L195.00,181.25 L195.33,182.45 L195.67,182.62 L196.00,183.00 L196.50,183.28 L197.00,183.75 L197.14,183.88 L197.29,181.99 L197.43,181.53 L197.57,182.00 L197.71,180.95 L197.86,179.90 L198.00,180.00 L198.14,179.53 L198.29,179.61 L198.43,178.42 L198.57,177.65 L198.71,176.75 L198.86,176.19 L199.00,176.25 L199.11,176.25 L199.22,175.13 L199.33,175.19 L199.44,173.40 L199.56,173.11 L199.67,172.29 L199.78,172.22 L199.89,171.19 L200.00,171.25 L200.11,170.35 L200.22,170.01 L200.33,169.31 L200.44,168.40 L200.56,167.82 L200.67,168.58 L200.78,166.91 L200.89,166.82 L201.00,166.25 L201.11,165.56 L201.22,165.18 L201.33,164.00 L201.44,163.77 L201.56,162.92 L201.67,162.98 L201.78,162.95 L201.89,161.94 L202.00,161.25 L202.50,162.37 L203.00,162.50 L203.14,162.64 L203.29,162.90 L203.43,164.16 L203.57,164.62 L203.71,165.28 L203.86,165.54 L204.00,166.25 L204.33,167.01 L204.67,167.73 L205.00,168.00 L205.33,167.99 L205.67,166.56 L206.00,166.25 L206.50,165.55 L207.00,165.00 L207.11,164.90 L207.22,163.50 L207.33,162.80 L207.44,162.51 L207.56,161.64 L207.67,162.05 L207.78,161.56 L207.89,160.29 L208.00,160.00 L208.11,158.93 L208.22,158.30 L208.33,157.98 L208.44,157.20 L208.56,157.12 L208.67,156.77 L208.78,155.75 L208.89,154.94 L209.00,155.00 L209.09,154.71 L209.18,153.23 L209.27,152.88 L209.36,152.43 L209.45,151.98 L209.55,151.03 L209.64,150.91 L209.73,150.19 L209.82,150.24 L209.91,149.40 L210.00,148.75 L210.10,148.73 L210.20,147.82 L210.30,147.39 L210.40,146.55 L210.50,145.79 L210.60,145.74 L210.70,144.94 L210.80,144.79 L210.90,143.89 L211.00,143.00 L211.25,143.78 L211.50,143.67 L211.75,144.94 L212.00,145.00 L212.11,145.39 L212.22,145.59 L212.33,146.06 L212.44,146.76 L212.56,147.45 L212.67,148.58 L212.78,148.59 L212.89,148.83 L213.00,150.00 L213.25,150.99 L213.50,151.33 L213.75,151.21 L214.00,152.50 L214.50,151.25 L215.00,151.25 L215.25,151.36 L215.50,152.30 L215.75,153.63 L216.00,153.75 L216.50,153.75 L217.00,152.50 L217.11,152.10 L217.22,151.01 L217.33,150.73 L217.44,150.09 L217.56,149.48 L217.67,148.48 L217.78,148.73 L217.89,148.51 L218.00,147.50 L218.11,147.26 L218.22,145.82 L218.33,145.88 L218.44,144.82 L218.56,145.02 L218.67,144.09 L218.78,144.23 L218.89,143.47 L219.00,142.50 L219.25,141.34 L219.50,140.99 L219.75,141.21 L220.00,140.00 L220.50,140.57 L221.00,141.25 L221.09,140.59 L221.18,140.03 L221.27,139.92 L221.36,139.59 L221.45,138.45 L221.55,138.50 L221.64,137.41 L221.73,136.15 L221.82,136.58 L221.91,135.46 L222.00,135.00 L222.14,133.84 L222.29,134.60 L222.43,132.74 L222.57,132.96 L222.71,132.30 L222.86,132.32 L223.00,131.25 L223.11,130.54 L223.22,129.74 L223.33,129.27 L223.44,128.61 L223.56,128.56 L223.67,127.72 L223.78,127.71 L223.89,126.44 L224.00,126.25 L224.14,125.51 L224.29,124.83 L224.43,125.32 L224.57,124.58 L224.71,124.06 L224.86,123.20 L225.00,122.50 L225.25,121.86 L225.50,121.00 L225.75,121.46 L226.00,120.50 L226.12,121.05 L226.25,120.98 L226.38,121.72 L226.50,122.19 L226.62,123.62 L226.75,124.44 L226.88,124.02 L227.00,125.00 L227.11,125.97 L227.22,125.86 L227.33,126.92 L227.44,127.73 L227.56,127.95 L227.67,128.75 L227.78,128.72 L227.89,128.76 L228.00,130.00 L228.09,130.58 L228.18,131.26 L228.27,131.26 L228.36,132.12 L228.45,132.59 L228.55,132.75 L228.64,133.71 L228.73,134.38 L228.82,135.08 L228.91,135.97 L229.00,136.25 L229.02,136.66 L229.04,138.03 L229.06,138.34 L229.08,139.04 L229.10,139.27 L229.12,139.79 L229.14,140.15 L229.16,141.07 L229.18,141.01 L229.20,141.88 L229.22,142.55 L229.24,142.88 L229.26,143.10 L229.28,143.36 L229.30,143.92 L229.32,144.85 L229.34,145.71 L229.36,146.51 L229.38,147.00 L229.40,146.98 L229.42,148.40 L229.44,148.03 L229.46,149.20 L229.48,148.85 L229.50,150.00 L229.52,150.91 L229.54,151.35 L229.56,152.31 L229.57,152.78 L229.59,153.04 L229.61,153.81 L229.63,154.22 L229.65,154.60 L229.67,154.59 L229.69,155.58 L229.70,156.67 L229.72,156.30 L229.74,157.89 L229.76,157.84 L229.78,158.18 L229.80,158.19 L229.81,159.29 L229.83,159.55 L229.85,160.77 L229.87,161.67 L229.89,162.24 L229.91,162.38 L229.93,162.62 L229.94,162.79 L229.96,164.15 L229.98,164.52 L230.00,165.00 L230.03,165.88 L230.07,165.99 L230.10,167.29 L230.13,166.93 L230.17,167.64 L230.20,168.17 L230.23,169.25 L230.27,170.22 L230.30,169.78 L230.33,171.02 L230.37,171.79 L230.40,171.61 L230.43,171.97 L230.47,173.26 L230.50,173.75 L230.75,174.84 L231.00,175.00 L231.03,174.97 L231.06,174.21 L231.08,173.22 L231.11,172.67 L231.14,172.26 L231.17,172.23 L231.19,170.83 L231.22,170.25 L231.25,170.15 L231.28,170.10 L231.31,168.45 L231.33,167.68 L231.36,167.24 L231.39,167.31 L231.42,166.81 L231.44,165.67 L231.47,165.12 L231.50,165.00 L231.53,164.58 L231.56,164.09 L231.58,163.60 L231.61,163.10 L231.64,161.61 L231.67,161.65 L231.69,161.58 L231.72,161.20 L231.75,159.75 L231.78,159.93 L231.81,159.09 L231.83,158.93 L231.86,157.40 L231.89,157.50 L231.92,157.14 L231.94,156.08 L231.97,155.00 L232.00,155.00 L232.08,153.99 L232.15,153.37 L232.23,152.70 L232.31,152.21 L232.38,152.28 L232.46,150.99 L232.54,151.32 L232.62,150.72 L232.69,150.25 L232.77,149.66 L232.85,148.95 L232.92,148.67 L233.00,147.50 L233.08,147.56 L233.15,146.52 L233.23,146.42 L233.31,144.64 L233.38,144.06 L233.46,143.43 L233.54,143.05 L233.62,142.71 L233.69,142.25 L233.77,141.98 L233.85,141.49 L233.92,139.99 L234.00,140.00 L234.50,139.24 L235.00,138.75 L235.25,139.44 L235.50,139.83 L235.75,140.09 L236.00,141.25 L236.11,141.94 L236.22,142.19 L236.33,143.17 L236.44,143.47 L236.56,144.68 L236.67,145.21 L236.78,144.54 L236.89,146.06 L237.00,146.25 L237.14,147.10 L237.29,147.04 L237.43,147.32 L237.57,148.36 L237.71,148.72 L237.86,149.80 L238.00,150.00 L238.25,151.21 L238.50,151.08 L238.75,151.58 L239.00,152.50 L239.14,151.96 L239.29,151.70 L239.43,151.30 L239.57,150.46 L239.71,149.54 L239.86,149.06 L240.00,148.75 L240.14,148.70 L240.29,147.71 L240.43,146.51 L240.57,146.50 L240.71,145.70 L240.86,145.77 L241.00,145.00 L241.25,145.03 L241.50,145.93 L241.75,146.31 L242.00,147.50 L242.14,148.00 L242.29,149.25 L242.43,149.17 L242.57,149.48 L242.71,150.79 L242.86,150.14 L243.00,151.25 L243.09,150.48 L243.18,150.55 L243.27,148.85 L243.36,149.35 L243.45,148.21 L243.55,147.16 L243.64,146.92 L243.73,146.65 L243.82,145.97 L243.91,145.59 L244.00,145.00 L244.20,143.77 L244.40,143.41 L244.60,143.86 L244.80,142.52 L245.00,142.00 L245.25,141.46 L245.50,140.42 L245.75,140.19 L246.00,140.00 L246.50,141.26 L247.00,141.25 L247.17,140.97 L247.33,140.18 L247.50,139.00 L247.67,138.93 L247.83,138.93 L248.00,138.00 L248.33,138.41 L248.67,139.13 L249.00,139.50 L249.17,139.52 L249.33,138.62 L249.50,138.07 L249.67,136.68 L249.83,136.13 L250.00,136.25 L250.50,137.25 L251.00,137.50 L251.25,138.00 L251.50,139.27 L251.75,139.83 L252.00,140.00 L252.14,140.05 L252.29,138.76 L252.43,139.09 L252.57,138.22 L252.71,137.87 L252.86,136.29 L253.00,136.25 L253.25,136.02 L253.50,134.89 L253.75,135.04 L254.00,133.75 L254.33,135.03 L254.67,134.52 L255.00,135.50 L255.20,134.79 L255.40,133.98 L255.60,133.66 L255.80,132.80 L256.00,132.50 L256.11,132.18 L256.22,130.86 L256.33,130.37 L256.44,130.22 L256.56,129.13 L256.67,129.00 L256.78,129.17 L256.89,128.60 L257.00,127.50 L257.14,126.54 L257.29,125.75 L257.43,126.35 L257.57,126.00 L257.71,124.96 L257.86,123.78 L258.00,123.75 L258.11,123.94 L258.22,125.45 L258.33,126.03 L258.44,125.32 L258.56,126.09 L258.67,126.98 L258.78,127.31 L258.89,128.55 L259.00,128.75 L259.14,128.04 L259.29,128.06 L259.43,126.66 L259.57,126.63 L259.71,126.74 L259.86,125.82 L260.00,125.00 L260.02,123.86 L260.05,123.32 L260.07,123.50 L260.09,122.55 L260.11,121.98 L260.14,121.56 L260.16,121.14 L260.18,121.11 L260.20,119.52 L260.23,119.41 L260.25,118.42 L260.27,118.25 L260.30,117.94 L260.32,116.53 L260.34,116.45 L260.36,116.20 L260.39,114.65 L260.41,115.15 L260.43,114.09 L260.45,113.64 L260.48,113.22 L260.50,112.50 L260.55,112.34 L260.59,110.74 L260.64,110.80 L260.68,109.58 L260.73,109.50 L260.77,108.87 L260.82,107.85 L260.86,107.67 L260.91,107.32 L260.95,107.04 L261.00,106.84 L261.05,105.50 L261.09,105.16 L261.14,104.84 L261.18,104.59 L261.23,104.04 L261.27,103.52 L261.32,102.00 L261.36,101.24 L261.41,101.74 L261.45,99.98 L261.50,100.00 L262.00,99.30 L262.50,98.75 L262.75,99.71 L263.00,100.04 L263.25,100.47 L263.50,101.25 L263.75,102.47 L264.00,102.22 L264.25,103.20 L264.50,103.75 L264.58,103.63 L264.65,102.09 L264.73,101.81 L264.81,101.43 L264.88,100.96 L264.96,99.88 L265.04,99.65 L265.12,98.52 L265.19,97.98 L265.27,97.76 L265.35,96.91 L265.42,97.48 L265.50,96.25 L265.64,95.31 L265.79,94.72 L265.93,94.83 L266.07,94.16 L266.21,92.88 L266.36,93.07 L266.50,92.00 L266.70,92.78 L266.90,93.04 L267.10,93.98 L267.30,94.04 L267.50,95.00 L267.59,95.24 L267.68,96.66 L267.77,96.62 L267.86,97.83 L267.95,97.39 L268.05,97.90 L268.14,98.35 L268.23,99.88 L268.32,100.20 L268.41,100.00 L268.50,101.25 L268.75,101.24 L269.00,102.95 L269.25,103.12 L269.50,103.75 L269.54,104.89 L269.58,104.36 L269.62,105.75 L269.67,105.71 L269.71,107.18 L269.75,107.50" fill="none" stroke="#8a2030" stroke-width="2.7" stroke-linejoin="round" stroke-linecap="round"/>
<path d="M270.00,163.75 L270.25,162.88 L270.50,162.01 L270.75,162.09 L271.00,161.25 L271.50,161.28 L272.00,162.50 L272.25,161.93 L272.50,161.06 L272.75,160.01 L273.00,160.00 L273.25,160.64 L273.50,160.60 L273.75,161.78 L274.00,162.50 L274.14,161.36 L274.29,160.86 L274.43,160.79 L274.57,160.81 L274.71,159.29 L274.86,158.90 L275.00,158.75 L275.33,159.51 L275.67,160.54 L276.00,160.50 L276.25,159.98 L276.50,159.11 L276.75,159.29 L277.00,158.00 L277.33,157.87 L277.67,159.50 L278.00,159.50 L278.17,158.66 L278.33,157.92 L278.50,157.34 L278.67,157.07 L278.83,157.23 L279.00,156.25 L279.50,156.43 L280.00,157.50 L280.14,157.08 L280.29,156.62 L280.43,155.71 L280.57,155.42 L280.71,154.21 L280.86,153.67 L281.00,153.75 L281.50,153.96 L282.00,155.00 L282.25,154.63 L282.50,153.65 L282.75,152.86 L283.00,152.50 L283.50,153.24 L284.00,153.75 L284.25,153.06 L284.50,152.22 L284.75,152.29 L285.00,151.25 L285.50,152.15 L286.00,152.50 L286.14,151.61 L286.29,151.53 L286.43,150.93 L286.57,150.88 L286.71,150.14 L286.86,148.99 L287.00,148.75 L287.50,148.80 L288.00,147.50 L288.14,146.43 L288.29,146.31 L288.43,146.25 L288.57,144.87 L288.71,144.81 L288.86,143.64 L289.00,143.75 L289.14,143.45 L289.29,143.05 L289.43,142.25 L289.57,142.13 L289.71,140.81 L289.86,140.81 L290.00,140.00 L290.07,139.56 L290.14,138.98 L290.20,138.23 L290.27,138.20 L290.34,137.78 L290.41,136.55 L290.48,136.25 L290.55,134.84 L290.61,135.17 L290.68,134.52 L290.75,133.75 L290.82,133.87 L290.90,133.05 L290.98,131.72 L291.05,131.29 L291.12,131.11 L291.20,129.63 L291.27,129.67 L291.35,128.69 L291.43,128.04 L291.50,128.00 L291.83,126.88 L292.17,127.38 L292.50,126.50 L292.52,126.53 L292.55,127.25 L292.57,128.00 L292.60,129.22 L292.62,128.66 L292.65,129.73 L292.68,130.42 L292.70,131.44 L292.73,131.90 L292.75,132.51 L292.77,132.24 L292.80,132.98 L292.82,133.45 L292.85,134.74 L292.88,135.39 L292.90,134.81 L292.93,135.40 L292.95,136.02 L292.98,136.58 L293.00,137.50 L293.04,136.93 L293.08,136.52 L293.12,135.51 L293.16,134.60 L293.20,134.62 L293.24,134.00 L293.28,133.72 L293.32,133.71 L293.36,132.79 L293.39,132.00 L293.43,131.59 L293.47,131.12 L293.51,129.69 L293.55,130.32 L293.59,129.60 L293.63,129.18 L293.67,128.52 L293.71,127.40 L293.75,127.00 L293.79,127.43 L293.82,127.59 L293.86,128.90 L293.89,128.67 L293.93,129.25 L293.96,130.02 L294.00,130.53 L294.04,131.35 L294.07,131.52 L294.11,132.01 L294.14,132.80 L294.18,133.30 L294.21,134.24 L294.25,134.34 L294.29,136.10 L294.32,136.30 L294.36,136.22 L294.39,136.94 L294.43,137.64 L294.46,138.24 L294.50,139.00 L294.53,137.90 L294.57,138.35 L294.60,137.99 L294.64,136.68 L294.67,136.14 L294.70,135.01 L294.74,134.47 L294.77,134.23 L294.81,133.56 L294.84,133.78 L294.88,132.28 L294.91,131.51 L294.94,132.25 L294.98,131.09 L295.01,129.98 L295.05,129.97 L295.08,128.68 L295.11,128.81 L295.15,128.87 L295.18,128.15 L295.22,127.34 L295.25,126.50 L295.28,126.73 L295.32,127.44 L295.35,127.73 L295.38,129.14 L295.41,129.37 L295.45,130.28 L295.48,130.22 L295.51,130.63 L295.54,132.02 L295.58,132.83 L295.61,133.21 L295.64,133.71 L295.67,134.29 L295.71,134.75 L295.74,134.60 L295.77,135.57 L295.80,135.91 L295.84,136.01 L295.87,136.58 L295.90,137.50 L295.93,138.03 L295.97,139.20 L296.00,139.50 L296.02,139.57 L296.05,138.28 L296.07,138.40 L296.10,137.90 L296.12,137.28 L296.14,135.88 L296.17,135.11 L296.19,134.55 L296.21,133.93 L296.24,133.37 L296.26,133.39 L296.29,133.20 L296.31,132.55 L296.33,131.47 L296.36,131.14 L296.38,130.78 L296.40,129.20 L296.43,129.44 L296.45,129.22 L296.48,128.47 L296.50,127.50 L296.51,128.43 L296.52,128.62 L296.54,128.77 L296.55,130.20 L296.56,130.14 L296.57,131.37 L296.59,132.19 L296.60,131.95 L296.61,132.54 L296.62,133.88 L296.64,134.14 L296.65,133.94 L296.66,134.45 L296.68,135.06 L296.69,136.69 L296.70,137.13 L296.71,136.78 L296.73,138.31 L296.74,139.10 L296.75,139.00" fill="none" stroke="#f3bcc4" stroke-width="5.2" stroke-opacity="0.45" stroke-linejoin="round" stroke-linecap="round"/>
<path d="M270.00,163.75 L270.25,162.88 L270.50,162.01 L270.75,162.09 L271.00,161.25 L271.50,161.28 L272.00,162.50 L272.25,161.93 L272.50,161.06 L272.75,160.01 L273.00,160.00 L273.25,160.64 L273.50,160.60 L273.75,161.78 L274.00,162.50 L274.14,161.36 L274.29,160.86 L274.43,160.79 L274.57,160.81 L274.71,159.29 L274.86,158.90 L275.00,158.75 L275.33,159.51 L275.67,160.54 L276.00,160.50 L276.25,159.98 L276.50,159.11 L276.75,159.29 L277.00,158.00 L277.33,157.87 L277.67,159.50 L278.00,159.50 L278.17,158.66 L278.33,157.92 L278.50,157.34 L278.67,157.07 L278.83,157.23 L279.00,156.25 L279.50,156.43 L280.00,157.50 L280.14,157.08 L280.29,156.62 L280.43,155.71 L280.57,155.42 L280.71,154.21 L280.86,153.67 L281.00,153.75 L281.50,153.96 L282.00,155.00 L282.25,154.63 L282.50,153.65 L282.75,152.86 L283.00,152.50 L283.50,153.24 L284.00,153.75 L284.25,153.06 L284.50,152.22 L284.75,152.29 L285.00,151.25 L285.50,152.15 L286.00,152.50 L286.14,151.61 L286.29,151.53 L286.43,150.93 L286.57,150.88 L286.71,150.14 L286.86,148.99 L287.00,148.75 L287.50,148.80 L288.00,147.50 L288.14,146.43 L288.29,146.31 L288.43,146.25 L288.57,144.87 L288.71,144.81 L288.86,143.64 L289.00,143.75 L289.14,143.45 L289.29,143.05 L289.43,142.25 L289.57,142.13 L289.71,140.81 L289.86,140.81 L290.00,140.00 L290.07,139.56 L290.14,138.98 L290.20,138.23 L290.27,138.20 L290.34,137.78 L290.41,136.55 L290.48,136.25 L290.55,134.84 L290.61,135.17 L290.68,134.52 L290.75,133.75 L290.82,133.87 L290.90,133.05 L290.98,131.72 L291.05,131.29 L291.12,131.11 L291.20,129.63 L291.27,129.67 L291.35,128.69 L291.43,128.04 L291.50,128.00 L291.83,126.88 L292.17,127.38 L292.50,126.50 L292.52,126.53 L292.55,127.25 L292.57,128.00 L292.60,129.22 L292.62,128.66 L292.65,129.73 L292.68,130.42 L292.70,131.44 L292.73,131.90 L292.75,132.51 L292.77,132.24 L292.80,132.98 L292.82,133.45 L292.85,134.74 L292.88,135.39 L292.90,134.81 L292.93,135.40 L292.95,136.02 L292.98,136.58 L293.00,137.50 L293.04,136.93 L293.08,136.52 L293.12,135.51 L293.16,134.60 L293.20,134.62 L293.24,134.00 L293.28,133.72 L293.32,133.71 L293.36,132.79 L293.39,132.00 L293.43,131.59 L293.47,131.12 L293.51,129.69 L293.55,130.32 L293.59,129.60 L293.63,129.18 L293.67,128.52 L293.71,127.40 L293.75,127.00 L293.79,127.43 L293.82,127.59 L293.86,128.90 L293.89,128.67 L293.93,129.25 L293.96,130.02 L294.00,130.53 L294.04,131.35 L294.07,131.52 L294.11,132.01 L294.14,132.80 L294.18,133.30 L294.21,134.24 L294.25,134.34 L294.29,136.10 L294.32,136.30 L294.36,136.22 L294.39,136.94 L294.43,137.64 L294.46,138.24 L294.50,139.00 L294.53,137.90 L294.57,138.35 L294.60,137.99 L294.64,136.68 L294.67,136.14 L294.70,135.01 L294.74,134.47 L294.77,134.23 L294.81,133.56 L294.84,133.78 L294.88,132.28 L294.91,131.51 L294.94,132.25 L294.98,131.09 L295.01,129.98 L295.05,129.97 L295.08,128.68 L295.11,128.81 L295.15,128.87 L295.18,128.15 L295.22,127.34 L295.25,126.50 L295.28,126.73 L295.32,127.44 L295.35,127.73 L295.38,129.14 L295.41,129.37 L295.45,130.28 L295.48,130.22 L295.51,130.63 L295.54,132.02 L295.58,132.83 L295.61,133.21 L295.64,133.71 L295.67,134.29 L295.71,134.75 L295.74,134.60 L295.77,135.57 L295.80,135.91 L295.84,136.01 L295.87,136.58 L295.90,137.50 L295.93,138.03 L295.97,139.20 L296.00,139.50 L296.02,139.57 L296.05,138.28 L296.07,138.40 L296.10,137.90 L296.12,137.28 L296.14,135.88 L296.17,135.11 L296.19,134.55 L296.21,133.93 L296.24,133.37 L296.26,133.39 L296.29,133.20 L296.31,132.55 L296.33,131.47 L296.36,131.14 L296.38,130.78 L296.40,129.20 L296.43,129.44 L296.45,129.22 L296.48,128.47 L296.50,127.50 L296.51,128.43 L296.52,128.62 L296.54,128.77 L296.55,130.20 L296.56,130.14 L296.57,131.37 L296.59,132.19 L296.60,131.95 L296.61,132.54 L296.62,133.88 L296.64,134.14 L296.65,133.94 L296.66,134.45 L296.68,135.06 L296.69,136.69 L296.70,137.13 L296.71,136.78 L296.73,138.31 L296.74,139.10 L296.75,139.00" fill="none" stroke="#5a1828" stroke-width="3.3" stroke-linejoin="round" stroke-linecap="round"/>
<line x1="270" y1="104" x2="270" y2="164" stroke="#9c4a52" stroke-width="1.3"/>
<path d="M72.50,188.00 L72.88,188.67 L73.25,189.34 L73.62,189.91 L74.00,190.00 L74.38,191.12 L74.75,191.34 L75.12,192.09 L75.50,192.00 L76.00,191.67 L76.50,192.62 L77.00,193.00 L77.25,193.12 L77.50,192.21 L77.75,192.06 L78.00,190.46 L78.25,190.46 L78.50,190.00 L78.88,189.15 L79.25,189.06 L79.62,188.60 L80.00,188.00 L80.75,187.07 L81.50,187.50 L81.67,187.69 L81.83,188.36 L82.00,189.83 L82.17,190.21 L82.33,189.94 L82.50,191.00 L82.80,191.97 L83.10,191.59 L83.40,192.81 L83.70,192.68 L84.00,193.75 L84.20,193.60 L84.40,195.37 L84.60,194.99 L84.80,195.55 L85.00,196.50 L85.33,197.68 L85.67,198.02 L86.00,198.00 L86.30,197.21 L86.60,197.65 L86.90,196.55 L87.20,196.25 L87.50,195.50 L87.67,194.50 L87.83,194.95 L88.00,194.02 L88.17,193.82 L88.33,193.13 L88.50,192.00 L88.88,191.22 L89.25,190.81 L89.62,190.03 L90.00,190.00 L90.75,189.75 L91.50,190.50 L91.75,189.27 L92.00,188.97 L92.25,188.77 L92.50,188.00 L93.00,186.97 L93.50,187.58 L94.00,187.00 L94.25,186.15 L94.50,185.48 L94.75,185.57 L95.00,184.50 L95.25,183.93 L95.50,183.16 L95.75,182.85 L96.00,182.62 L96.25,181.17 L96.50,181.25 L96.64,181.31 L96.79,179.37 L96.93,179.78 L97.07,179.30 L97.21,177.54 L97.36,178.01 L97.50,177.00 L98.00,177.15 L98.50,177.78 L99.00,178.00 L99.25,177.81 L99.50,178.37 L99.75,179.05 L100.00,180.00 L100.50,180.22 L101.00,178.74 L101.50,178.75 L101.75,178.48 L102.00,178.10 L102.25,177.49 L102.50,176.25 L102.71,175.50 L102.93,174.98 L103.14,174.68 L103.36,174.49 L103.57,173.02 L103.79,173.38 L104.00,172.50 L104.14,172.38 L104.29,171.93 L104.43,170.24 L104.57,170.98 L104.71,169.25 L104.86,169.06 L105.00,168.75 L105.50,168.49 L106.00,168.50 L106.50,167.50 L106.64,166.74 L106.79,167.02 L106.93,165.96 L107.07,165.09 L107.21,164.56 L107.36,163.83 L107.50,163.75 L107.64,162.62 L107.79,162.19 L107.93,162.41 L108.07,162.30 L108.21,160.60 L108.36,159.90 L108.50,160.00 L108.61,160.13 L108.72,158.94 L108.83,158.20 L108.94,157.41 L109.06,157.35 L109.17,157.12 L109.28,156.05 L109.39,155.45 L109.50,155.00 L110.00,153.88 L110.50,154.00 L110.67,155.17 L110.83,154.51 L111.00,155.74 L111.17,156.81 L111.33,156.40 L111.50,157.50 L111.58,157.25 L111.65,156.98 L111.73,155.95 L111.81,155.60 L111.88,154.06 L111.96,153.95 L112.04,152.97 L112.12,153.37 L112.19,152.02 L112.27,151.67 L112.35,151.85 L112.42,151.07 L112.50,150.00 L113.00,150.04 L113.50,148.75 L113.59,149.25 L113.68,149.87 L113.77,150.78 L113.86,150.99 L113.95,151.30 L114.05,152.02 L114.14,152.23 L114.23,153.12 L114.32,154.55 L114.41,155.08 L114.50,155.00 L114.75,154.55 L115.00,153.75 L115.25,152.90 L115.50,152.50 L115.61,151.37 L115.72,151.07 L115.83,151.23 L115.94,150.79 L116.06,149.53 L116.17,149.57 L116.28,149.00 L116.39,148.33 L116.50,147.50 L116.56,147.17 L116.61,146.75 L116.67,145.64 L116.72,145.56 L116.78,144.42 L116.83,144.15 L116.89,143.99 L116.94,143.32 L117.00,142.21 L117.06,142.57 L117.11,141.60 L117.17,140.95 L117.22,139.59 L117.28,139.79 L117.33,138.82 L117.39,138.85 L117.44,138.00 L117.50,137.50 L117.59,137.38 L117.68,136.57 L117.77,136.21 L117.86,135.01 L117.95,134.86 L118.05,134.42 L118.14,133.98 L118.23,132.74 L118.32,132.87 L118.41,132.34 L118.50,131.25 L118.61,130.96 L118.72,130.81 L118.83,130.22 L118.94,129.05 L119.06,128.51 L119.17,127.45 L119.28,127.83 L119.39,127.42 L119.50,126.25 L119.64,126.75 L119.79,127.59 L119.93,128.16 L120.07,128.72 L120.21,128.47 L120.36,129.86 L120.50,130.00 L120.53,130.70 L120.57,131.40 L120.60,131.64 L120.63,132.51 L120.67,133.30 L120.70,133.69 L120.73,134.39 L120.77,134.01 L120.80,134.77 L120.83,135.75 L120.87,136.63 L120.90,136.61 L120.93,137.84 L120.97,138.35 L121.00,138.75 L121.25,138.73 L121.50,139.96 L121.75,140.24 L122.00,141.25 L122.50,141.25 L123.00,142.50 L123.09,142.56 L123.18,143.38 L123.27,143.76 L123.36,144.34 L123.45,144.69 L123.55,145.86 L123.64,146.31 L123.73,147.20 L123.82,147.74 L123.91,147.81 L124.00,148.75 L124.25,149.94 L124.50,149.30 L124.75,150.49 L125.00,151.25 L125.25,151.56 L125.50,152.37 L125.75,152.59 L126.00,153.75 L126.50,154.84 L127.00,155.00 L127.25,155.45 L127.50,155.60 L127.75,157.03 L128.00,157.50 L128.25,156.31 L128.50,156.31 L128.75,155.40 L129.00,155.00 L129.25,154.49 L129.50,154.39 L129.75,153.57 L130.00,152.50 L130.11,152.94 L130.22,154.05 L130.33,154.37 L130.44,154.54 L130.56,154.78 L130.67,155.97 L130.78,156.48 L130.89,157.58 L131.00,157.50 L131.14,158.69 L131.29,158.72 L131.43,158.90 L131.57,160.19 L131.71,159.48 L131.86,160.17 L132.00,161.25 L132.25,161.97 L132.50,162.66 L132.75,162.62 L133.00,163.75 L133.09,163.36 L133.18,163.16 L133.27,161.87 L133.36,161.38 L133.45,160.53 L133.55,160.05 L133.64,160.43 L133.73,159.04 L133.82,159.28 L133.91,158.65 L134.00,157.50 L134.11,157.08 L134.22,156.05 L134.33,156.51 L134.44,155.27 L134.56,154.60 L134.67,153.91 L134.78,154.29 L134.89,153.04 L135.00,152.50 L135.25,151.58 L135.50,151.22 L135.75,150.10 L136.00,150.00 L136.50,150.80 L137.00,151.25 L137.09,151.74 L137.18,152.10 L137.27,153.35 L137.36,153.98 L137.45,153.41 L137.55,154.70 L137.64,154.91 L137.73,156.40 L137.82,156.76 L137.91,156.58 L138.00,157.50 L138.08,157.75 L138.15,158.17 L138.23,159.92 L138.31,159.52 L138.38,160.54 L138.46,160.93 L138.54,161.74 L138.62,162.26 L138.69,163.03 L138.77,162.73 L138.85,164.21 L138.92,164.14 L139.00,165.00 L139.14,165.58 L139.29,165.84 L139.43,166.32 L139.57,167.18 L139.71,167.63 L139.86,168.02 L140.00,168.75 L140.11,169.65 L140.22,169.99 L140.33,169.77 L140.44,170.63 L140.56,171.47 L140.67,172.67 L140.78,173.18 L140.89,173.26 L141.00,173.75 L141.50,173.70 L142.00,175.00 L142.50,176.01 L143.00,176.25 L143.25,176.77 L143.50,177.61 L143.75,178.42 L144.00,178.75 L144.50,179.56 L145.00,180.00 L145.30,180.47 L145.60,181.58 L145.90,181.34 L146.20,181.85 L146.50,182.50 L147.00,182.37 L147.50,181.25 L147.67,180.27 L147.83,179.85 L148.00,180.05 L148.17,178.42 L148.33,178.94 L148.50,178.19 L148.67,177.27 L148.83,176.51 L149.00,176.25 L149.50,176.02 L150.00,175.00 L150.50,174.95 L151.00,173.75 L151.25,172.62 L151.50,172.47 L151.75,171.94 L152.00,171.25 L152.50,170.62 L153.00,170.00 L153.25,170.26 L153.50,170.51 L153.75,171.62 L154.00,172.00 L154.33,173.02 L154.67,172.56 L155.00,173.75 L155.14,173.91 L155.29,175.27 L155.43,175.77 L155.57,176.12 L155.71,175.76 L155.86,177.28 L156.00,177.50 L156.50,178.80 L157.00,178.75 L157.50,178.82 L158.00,177.50 L158.25,177.16 L158.50,175.62 L158.75,176.10 L159.00,175.00 L159.14,174.07 L159.29,174.13 L159.43,174.03 L159.57,173.15 L159.71,171.81 L159.86,171.50 L160.00,171.25 L160.14,171.30 L160.29,169.69 L160.43,169.80 L160.57,168.99 L160.71,168.10 L160.86,168.21 L161.00,167.50 L161.14,166.33 L161.29,165.88 L161.43,165.72 L161.57,164.76 L161.71,164.20 L161.86,164.39 L162.00,163.75 L162.14,163.55 L162.29,163.21 L162.43,161.63 L162.57,161.51 L162.71,160.81 L162.86,160.68 L163.00,160.00 L163.11,159.43 L163.22,159.50 L163.33,158.16 L163.44,157.16 L163.56,157.50 L163.67,156.18 L163.78,156.29 L163.89,155.56 L164.00,155.00 L164.14,155.04 L164.29,154.01 L164.43,153.56 L164.57,152.53 L164.71,152.39 L164.86,151.44 L165.00,151.25 L165.50,152.23 L166.00,152.50 L166.25,153.15 L166.50,153.24 L166.75,154.00 L167.00,155.00 L167.11,155.38 L167.22,156.44 L167.33,156.22 L167.44,157.52 L167.56,157.99 L167.67,157.75 L167.78,159.12 L167.89,158.87 L168.00,160.00 L168.50,158.85 L169.00,158.75 L169.14,159.42 L169.29,159.46 L169.43,160.88 L169.57,160.87 L169.71,161.18 L169.86,162.38 L170.00,162.50 L170.25,162.47 L170.50,164.07 L170.75,163.75 L171.00,165.00 L171.50,163.89 L172.00,163.75 L172.25,165.01 L172.50,165.25 L172.75,165.24 L173.00,166.25 L173.50,165.09 L174.00,165.00 L174.25,165.04 L174.50,163.98 L174.75,163.57 L175.00,162.50 L175.25,161.37 L175.50,161.42 L175.75,160.42 L176.00,160.00 L176.50,159.00 L177.00,158.75 L177.14,159.05 L177.29,159.98 L177.43,160.15 L177.57,160.73 L177.71,160.92 L177.86,162.43 L178.00,162.50 L178.08,163.28 L178.15,164.08 L178.23,164.14 L178.31,165.30 L178.38,165.41 L178.46,166.09 L178.54,166.64 L178.62,167.45 L178.69,167.55 L178.77,167.71 L178.85,168.19 L178.92,169.01 L179.00,170.00 L179.14,168.82 L179.29,169.47 L179.43,168.37 L179.57,168.22 L179.71,166.62 L179.86,166.74 L180.00,166.25 L180.09,167.36 L180.18,167.55 L180.27,167.85 L180.36,168.47 L180.45,168.53 L180.55,169.18 L180.64,169.75 L180.73,170.62 L180.82,171.20 L180.91,172.46 L181.00,172.50 L181.14,172.55 L181.29,173.23 L181.43,173.80 L181.57,174.17 L181.71,174.88 L181.86,175.34 L182.00,176.25 L182.50,175.60 L183.00,175.00 L183.25,174.97 L183.50,176.84 L183.75,176.69 L184.00,177.50 L184.50,177.49 L185.00,176.25 L185.25,175.89 L185.50,175.24 L185.75,174.34 L186.00,173.75 L186.33,173.79 L186.67,172.05 L187.00,172.00 L187.20,172.84 L187.40,172.91 L187.60,174.04 L187.80,174.72 L188.00,175.00 L188.50,173.90 L189.00,173.75 L189.50,172.71 L190.00,172.50 L190.14,172.37 L190.29,173.19 L190.43,173.52 L190.57,174.50 L190.71,175.84 L190.86,175.52 L191.00,176.25 L191.25,176.61 L191.50,177.46 L191.75,177.82 L192.00,178.75 L192.50,178.45 L193.00,177.50 L193.25,178.43 L193.50,178.28 L193.75,179.01 L194.00,180.00 L194.50,180.87 L195.00,181.25 L195.33,182.45 L195.67,182.62 L196.00,183.00 L196.50,183.28 L197.00,183.75 L197.14,183.88 L197.29,181.99 L197.43,181.53 L197.57,182.00 L197.71,180.95 L197.86,179.90 L198.00,180.00 L198.14,179.53 L198.29,179.61 L198.43,178.42 L198.57,177.65 L198.71,176.75 L198.86,176.19 L199.00,176.25 L199.11,176.25 L199.22,175.13 L199.33,175.19 L199.44,173.40 L199.56,173.11 L199.67,172.29 L199.78,172.22 L199.89,171.19 L200.00,171.25 L200.11,170.35 L200.22,170.01 L200.33,169.31 L200.44,168.40 L200.56,167.82 L200.67,168.58 L200.78,166.91 L200.89,166.82 L201.00,166.25 L201.11,165.56 L201.22,165.18 L201.33,164.00 L201.44,163.77 L201.56,162.92 L201.67,162.98 L201.78,162.95 L201.89,161.94 L202.00,161.25 L202.50,162.37 L203.00,162.50 L203.14,162.64 L203.29,162.90 L203.43,164.16 L203.57,164.62 L203.71,165.28 L203.86,165.54 L204.00,166.25 L204.33,167.01 L204.67,167.73 L205.00,168.00 L205.33,167.99 L205.67,166.56 L206.00,166.25 L206.50,165.55 L207.00,165.00 L207.11,164.90 L207.22,163.50 L207.33,162.80 L207.44,162.51 L207.56,161.64 L207.67,162.05 L207.78,161.56 L207.89,160.29 L208.00,160.00 L208.11,158.93 L208.22,158.30 L208.33,157.98 L208.44,157.20 L208.56,157.12 L208.67,156.77 L208.78,155.75 L208.89,154.94 L209.00,155.00 L209.09,154.71 L209.18,153.23 L209.27,152.88 L209.36,152.43 L209.45,151.98 L209.55,151.03 L209.64,150.91 L209.73,150.19 L209.82,150.24 L209.91,149.40 L210.00,148.75 L210.10,148.73 L210.20,147.82 L210.30,147.39 L210.40,146.55 L210.50,145.79 L210.60,145.74 L210.70,144.94 L210.80,144.79 L210.90,143.89 L211.00,143.00 L211.25,143.78 L211.50,143.67 L211.75,144.94 L212.00,145.00 L212.11,145.39 L212.22,145.59 L212.33,146.06 L212.44,146.76 L212.56,147.45 L212.67,148.58 L212.78,148.59 L212.89,148.83 L213.00,150.00 L213.25,150.99 L213.50,151.33 L213.75,151.21 L214.00,152.50 L214.50,151.25 L215.00,151.25 L215.25,151.36 L215.50,152.30 L215.75,153.63 L216.00,153.75 L216.50,153.75 L217.00,152.50 L217.11,152.10 L217.22,151.01 L217.33,150.73 L217.44,150.09 L217.56,149.48 L217.67,148.48 L217.78,148.73 L217.89,148.51 L218.00,147.50 L218.11,147.26 L218.22,145.82 L218.33,145.88 L218.44,144.82 L218.56,145.02 L218.67,144.09 L218.78,144.23 L218.89,143.47 L219.00,142.50 L219.25,141.34 L219.50,140.99 L219.75,141.21 L220.00,140.00 L220.50,140.57 L221.00,141.25 L221.09,140.59 L221.18,140.03 L221.27,139.92 L221.36,139.59 L221.45,138.45 L221.55,138.50 L221.64,137.41 L221.73,136.15 L221.82,136.58 L221.91,135.46 L222.00,135.00 L222.14,133.84 L222.29,134.60 L222.43,132.74 L222.57,132.96 L222.71,132.30 L222.86,132.32 L223.00,131.25 L223.11,130.54 L223.22,129.74 L223.33,129.27 L223.44,128.61 L223.56,128.56 L223.67,127.72 L223.78,127.71 L223.89,126.44 L224.00,126.25 L224.14,125.51 L224.29,124.83 L224.43,125.32 L224.57,124.58 L224.71,124.06 L224.86,123.20 L225.00,122.50 L225.25,121.86 L225.50,121.00 L225.75,121.46 L226.00,120.50 L226.12,121.05 L226.25,120.98 L226.38,121.72 L226.50,122.19 L226.62,123.62 L226.75,124.44 L226.88,124.02 L227.00,125.00 L227.11,125.97 L227.22,125.86 L227.33,126.92 L227.44,127.73 L227.56,127.95 L227.67,128.75 L227.78,128.72 L227.89,128.76 L228.00,130.00 L228.09,130.58 L228.18,131.26 L228.27,131.26 L228.36,132.12 L228.45,132.59 L228.55,132.75 L228.64,133.71 L228.73,134.38 L228.82,135.08 L228.91,135.97 L229.00,136.25 L229.02,136.66 L229.04,138.03 L229.06,138.34 L229.08,139.04 L229.10,139.27 L229.12,139.79 L229.14,140.15 L229.16,141.07 L229.18,141.01 L229.20,141.88 L229.22,142.55 L229.24,142.88 L229.26,143.10 L229.28,143.36 L229.30,143.92 L229.32,144.85 L229.34,145.71 L229.36,146.51 L229.38,147.00 L229.40,146.98 L229.42,148.40 L229.44,148.03 L229.46,149.20 L229.48,148.85 L229.50,150.00 L229.52,150.91 L229.54,151.35 L229.56,152.31 L229.57,152.78 L229.59,153.04 L229.61,153.81 L229.63,154.22 L229.65,154.60 L229.67,154.59 L229.69,155.58 L229.70,156.67 L229.72,156.30 L229.74,157.89 L229.76,157.84 L229.78,158.18 L229.80,158.19 L229.81,159.29 L229.83,159.55 L229.85,160.77 L229.87,161.67 L229.89,162.24 L229.91,162.38 L229.93,162.62 L229.94,162.79 L229.96,164.15 L229.98,164.52 L230.00,165.00 L230.03,165.88 L230.07,165.99 L230.10,167.29 L230.13,166.93 L230.17,167.64 L230.20,168.17 L230.23,169.25 L230.27,170.22 L230.30,169.78 L230.33,171.02 L230.37,171.79 L230.40,171.61 L230.43,171.97 L230.47,173.26 L230.50,173.75 L230.75,174.84 L231.00,175.00 L231.03,174.97 L231.06,174.21 L231.08,173.22 L231.11,172.67 L231.14,172.26 L231.17,172.23 L231.19,170.83 L231.22,170.25 L231.25,170.15 L231.28,170.10 L231.31,168.45 L231.33,167.68 L231.36,167.24 L231.39,167.31 L231.42,166.81 L231.44,165.67 L231.47,165.12 L231.50,165.00 L231.53,164.58 L231.56,164.09 L231.58,163.60 L231.61,163.10 L231.64,161.61 L231.67,161.65 L231.69,161.58 L231.72,161.20 L231.75,159.75 L231.78,159.93 L231.81,159.09 L231.83,158.93 L231.86,157.40 L231.89,157.50 L231.92,157.14 L231.94,156.08 L231.97,155.00 L232.00,155.00 L232.08,153.99 L232.15,153.37 L232.23,152.70 L232.31,152.21 L232.38,152.28 L232.46,150.99 L232.54,151.32 L232.62,150.72 L232.69,150.25 L232.77,149.66 L232.85,148.95 L232.92,148.67 L233.00,147.50 L233.08,147.56 L233.15,146.52 L233.23,146.42 L233.31,144.64 L233.38,144.06 L233.46,143.43 L233.54,143.05 L233.62,142.71 L233.69,142.25 L233.77,141.98 L233.85,141.49 L233.92,139.99 L234.00,140.00 L234.50,139.24 L235.00,138.75 L235.25,139.44 L235.50,139.83 L235.75,140.09 L236.00,141.25 L236.11,141.94 L236.22,142.19 L236.33,143.17 L236.44,143.47 L236.56,144.68 L236.67,145.21 L236.78,144.54 L236.89,146.06 L237.00,146.25 L237.14,147.10 L237.29,147.04 L237.43,147.32 L237.57,148.36 L237.71,148.72 L237.86,149.80 L238.00,150.00 L238.25,151.21 L238.50,151.08 L238.75,151.58 L239.00,152.50 L239.14,151.96 L239.29,151.70 L239.43,151.30 L239.57,150.46 L239.71,149.54 L239.86,149.06 L240.00,148.75 L240.14,148.70 L240.29,147.71 L240.43,146.51 L240.57,146.50 L240.71,145.70 L240.86,145.77 L241.00,145.00 L241.25,145.03 L241.50,145.93 L241.75,146.31 L242.00,147.50 L242.14,148.00 L242.29,149.25 L242.43,149.17 L242.57,149.48 L242.71,150.79 L242.86,150.14 L243.00,151.25 L243.09,150.48 L243.18,150.55 L243.27,148.85 L243.36,149.35 L243.45,148.21 L243.55,147.16 L243.64,146.92 L243.73,146.65 L243.82,145.97 L243.91,145.59 L244.00,145.00 L244.20,143.77 L244.40,143.41 L244.60,143.86 L244.80,142.52 L245.00,142.00 L245.25,141.46 L245.50,140.42 L245.75,140.19 L246.00,140.00 L246.50,141.26 L247.00,141.25 L247.17,140.97 L247.33,140.18 L247.50,139.00 L247.67,138.93 L247.83,138.93 L248.00,138.00 L248.33,138.41 L248.67,139.13 L249.00,139.50 L249.17,139.52 L249.33,138.62 L249.50,138.07 L249.67,136.68 L249.83,136.13 L250.00,136.25 L250.50,137.25 L251.00,137.50 L251.25,138.00 L251.50,139.27 L251.75,139.83 L252.00,140.00 L252.14,140.05 L252.29,138.76 L252.43,139.09 L252.57,138.22 L252.71,137.87 L252.86,136.29 L253.00,136.25 L253.25,136.02 L253.50,134.89 L253.75,135.04 L254.00,133.75 L254.33,135.03 L254.67,134.52 L255.00,135.50 L255.20,134.79 L255.40,133.98 L255.60,133.66 L255.80,132.80 L256.00,132.50 L256.11,132.18 L256.22,130.86 L256.33,130.37 L256.44,130.22 L256.56,129.13 L256.67,129.00 L256.78,129.17 L256.89,128.60 L257.00,127.50 L257.14,126.54 L257.29,125.75 L257.43,126.35 L257.57,126.00 L257.71,124.96 L257.86,123.78 L258.00,123.75 L258.11,123.94 L258.22,125.45 L258.33,126.03 L258.44,125.32 L258.56,126.09 L258.67,126.98 L258.78,127.31 L258.89,128.55 L259.00,128.75 L259.14,128.04 L259.29,128.06 L259.43,126.66 L259.57,126.63 L259.71,126.74 L259.86,125.82 L260.00,125.00 L260.02,123.86 L260.05,123.32 L260.07,123.50 L260.09,122.55 L260.11,121.98 L260.14,121.56 L260.16,121.14 L260.18,121.11 L260.20,119.52 L260.23,119.41 L260.25,118.42 L260.27,118.25 L260.30,117.94 L260.32,116.53 L260.34,116.45 L260.36,116.20 L260.39,114.65 L260.41,115.15 L260.43,114.09 L260.45,113.64 L260.48,113.22 L260.50,112.50 L260.55,112.34 L260.59,110.74 L260.64,110.80 L260.68,109.58 L260.73,109.50 L260.77,108.87 L260.82,107.85 L260.86,107.67 L260.91,107.32 L260.95,107.04 L261.00,106.84 L261.05,105.50 L261.09,105.16 L261.14,104.84 L261.18,104.59 L261.23,104.04 L261.27,103.52 L261.32,102.00 L261.36,101.24 L261.41,101.74 L261.45,99.98 L261.50,100.00 L262.00,99.30 L262.50,98.75 L262.75,99.71 L263.00,100.04 L263.25,100.47 L263.50,101.25 L263.75,102.47 L264.00,102.22 L264.25,103.20 L264.50,103.75 L264.58,103.63 L264.65,102.09 L264.73,101.81 L264.81,101.43 L264.88,100.96 L264.96,99.88 L265.04,99.65 L265.12,98.52 L265.19,97.98 L265.27,97.76 L265.35,96.91 L265.42,97.48 L265.50,96.25 L265.64,95.31 L265.79,94.72 L265.93,94.83 L266.07,94.16 L266.21,92.88 L266.36,93.07 L266.50,92.00 L266.70,92.78 L266.90,93.04 L267.10,93.98 L267.30,94.04 L267.50,95.00 L267.59,95.24 L267.68,96.66 L267.77,96.62 L267.86,97.83 L267.95,97.39 L268.05,97.90 L268.14,98.35 L268.23,99.88 L268.32,100.20 L268.41,100.00 L268.50,101.25 L268.75,101.24 L269.00,102.95 L269.25,103.12 L269.50,103.75 L269.54,104.89 L269.58,104.36 L269.62,105.75 L269.67,105.71 L269.71,107.18 L269.75,107.50" fill="none" stroke="#db2937" stroke-width="2.0" stroke-linejoin="round" stroke-linecap="round"/>
<path d="M270.00,163.75 L270.25,162.88 L270.50,162.01 L270.75,162.09 L271.00,161.25 L271.50,161.28 L272.00,162.50 L272.25,161.93 L272.50,161.06 L272.75,160.01 L273.00,160.00 L273.25,160.64 L273.50,160.60 L273.75,161.78 L274.00,162.50 L274.14,161.36 L274.29,160.86 L274.43,160.79 L274.57,160.81 L274.71,159.29 L274.86,158.90 L275.00,158.75 L275.33,159.51 L275.67,160.54 L276.00,160.50 L276.25,159.98 L276.50,159.11 L276.75,159.29 L277.00,158.00 L277.33,157.87 L277.67,159.50 L278.00,159.50 L278.17,158.66 L278.33,157.92 L278.50,157.34 L278.67,157.07 L278.83,157.23 L279.00,156.25 L279.50,156.43 L280.00,157.50 L280.14,157.08 L280.29,156.62 L280.43,155.71 L280.57,155.42 L280.71,154.21 L280.86,153.67 L281.00,153.75 L281.50,153.96 L282.00,155.00 L282.25,154.63 L282.50,153.65 L282.75,152.86 L283.00,152.50 L283.50,153.24 L284.00,153.75 L284.25,153.06 L284.50,152.22 L284.75,152.29 L285.00,151.25 L285.50,152.15 L286.00,152.50 L286.14,151.61 L286.29,151.53 L286.43,150.93 L286.57,150.88 L286.71,150.14 L286.86,148.99 L287.00,148.75 L287.50,148.80 L288.00,147.50 L288.14,146.43 L288.29,146.31 L288.43,146.25 L288.57,144.87 L288.71,144.81 L288.86,143.64 L289.00,143.75 L289.14,143.45 L289.29,143.05 L289.43,142.25 L289.57,142.13 L289.71,140.81 L289.86,140.81 L290.00,140.00 L290.07,139.56 L290.14,138.98 L290.20,138.23 L290.27,138.20 L290.34,137.78 L290.41,136.55 L290.48,136.25 L290.55,134.84 L290.61,135.17 L290.68,134.52 L290.75,133.75 L290.82,133.87 L290.90,133.05 L290.98,131.72 L291.05,131.29 L291.12,131.11 L291.20,129.63 L291.27,129.67 L291.35,128.69 L291.43,128.04 L291.50,128.00 L291.83,126.88 L292.17,127.38 L292.50,126.50 L292.52,126.53 L292.55,127.25 L292.57,128.00 L292.60,129.22 L292.62,128.66 L292.65,129.73 L292.68,130.42 L292.70,131.44 L292.73,131.90 L292.75,132.51 L292.77,132.24 L292.80,132.98 L292.82,133.45 L292.85,134.74 L292.88,135.39 L292.90,134.81 L292.93,135.40 L292.95,136.02 L292.98,136.58 L293.00,137.50 L293.04,136.93 L293.08,136.52 L293.12,135.51 L293.16,134.60 L293.20,134.62 L293.24,134.00 L293.28,133.72 L293.32,133.71 L293.36,132.79 L293.39,132.00 L293.43,131.59 L293.47,131.12 L293.51,129.69 L293.55,130.32 L293.59,129.60 L293.63,129.18 L293.67,128.52 L293.71,127.40 L293.75,127.00 L293.79,127.43 L293.82,127.59 L293.86,128.90 L293.89,128.67 L293.93,129.25 L293.96,130.02 L294.00,130.53 L294.04,131.35 L294.07,131.52 L294.11,132.01 L294.14,132.80 L294.18,133.30 L294.21,134.24 L294.25,134.34 L294.29,136.10 L294.32,136.30 L294.36,136.22 L294.39,136.94 L294.43,137.64 L294.46,138.24 L294.50,139.00 L294.53,137.90 L294.57,138.35 L294.60,137.99 L294.64,136.68 L294.67,136.14 L294.70,135.01 L294.74,134.47 L294.77,134.23 L294.81,133.56 L294.84,133.78 L294.88,132.28 L294.91,131.51 L294.94,132.25 L294.98,131.09 L295.01,129.98 L295.05,129.97 L295.08,128.68 L295.11,128.81 L295.15,128.87 L295.18,128.15 L295.22,127.34 L295.25,126.50 L295.28,126.73 L295.32,127.44 L295.35,127.73 L295.38,129.14 L295.41,129.37 L295.45,130.28 L295.48,130.22 L295.51,130.63 L295.54,132.02 L295.58,132.83 L295.61,133.21 L295.64,133.71 L295.67,134.29 L295.71,134.75 L295.74,134.60 L295.77,135.57 L295.80,135.91 L295.84,136.01 L295.87,136.58 L295.90,137.50 L295.93,138.03 L295.97,139.20 L296.00,139.50 L296.02,139.57 L296.05,138.28 L296.07,138.40 L296.10,137.90 L296.12,137.28 L296.14,135.88 L296.17,135.11 L296.19,134.55 L296.21,133.93 L296.24,133.37 L296.26,133.39 L296.29,133.20 L296.31,132.55 L296.33,131.47 L296.36,131.14 L296.38,130.78 L296.40,129.20 L296.43,129.44 L296.45,129.22 L296.48,128.47 L296.50,127.50 L296.51,128.43 L296.52,128.62 L296.54,128.77 L296.55,130.20 L296.56,130.14 L296.57,131.37 L296.59,132.19 L296.60,131.95 L296.61,132.54 L296.62,133.88 L296.64,134.14 L296.65,133.94 L296.66,134.45 L296.68,135.06 L296.69,136.69 L296.70,137.13 L296.71,136.78 L296.73,138.31 L296.74,139.10 L296.75,139.00" fill="none" stroke="#db2937" stroke-width="2.2" stroke-linejoin="round" stroke-linecap="round"/>
<line x1="113.8" y1="68.8" x2="122.3" y2="68.8" stroke="#10151f" stroke-width="2.1"/>
<text x="122.2" y="73.3" class="a" text-anchor="start" >LME</text>
<line x1="188.8" y1="68.8" x2="197.2" y2="68.8" stroke="#c03a48" stroke-width="1.7"/>
<text x="197.2" y="73.3" class="a" text-anchor="start" style="font-size:12.35px">COMEX</text>
<text class="a" text-anchor="end" transform="translate(75.8,209) rotate(-90)">Jan-24</text>
<text class="a" text-anchor="end" transform="translate(103.3,209) rotate(-90)">Mar-24</text>
<text class="a" text-anchor="end" transform="translate(130.8,209) rotate(-90)">Jun-24</text>
<text class="a" text-anchor="end" transform="translate(158.3,209) rotate(-90)">Aug-24</text>
<text class="a" text-anchor="end" transform="translate(185.8,209) rotate(-90)">Nov-24</text>
<text class="a" text-anchor="end" transform="translate(213.3,209) rotate(-90)">Feb-25</text>
<text class="a" text-anchor="end" transform="translate(240.8,209) rotate(-90)">Apr-25</text>
<text class="a" text-anchor="end" transform="translate(268.3,209) rotate(-90)">Jul-25</text>
<text class="a" text-anchor="end" transform="translate(295.8,209) rotate(-90)">Oct-25</text>
<text x="329.4" y="27" class="t" text-anchor="start" style="font-size:15.13px">D. Gold and silver prices</text>
<text x="333" y="58" class="a" text-anchor="start" >US$/toz</text>
<text x="359.3" y="74.8" class="a" text-anchor="end" >4,000</text>
<text x="359.3" y="96.6" class="a" text-anchor="end" >3,500</text>
<text x="359.3" y="118.4" class="a" text-anchor="end" >3,000</text>
<text x="359.3" y="140.2" class="a" text-anchor="end" >2,500</text>
<text x="359.3" y="162.0" class="a" text-anchor="end" >2,000</text>
<text x="359.3" y="183.8" class="a" text-anchor="end" >1,500</text>
<text x="359.3" y="205.60000000000002" class="a" text-anchor="end" >1,000</text>
<text x="557.5" y="57.3" class="a" text-anchor="start" >US$/toz</text>
<text x="589.5" y="74.8" class="a" text-anchor="start" >45</text>
<text x="589.5" y="93.4" class="a" text-anchor="start" >40</text>
<text x="589.5" y="112.0" class="a" text-anchor="start" >35</text>
<text x="589.5" y="130.6" class="a" text-anchor="start" >30</text>
<text x="589.5" y="149.2" class="a" text-anchor="start" >25</text>
<text x="589.5" y="167.8" class="a" text-anchor="start" >20</text>
<text x="589.5" y="186.4" class="a" text-anchor="start" >15</text>
<text x="589.5" y="205.0" class="a" text-anchor="start" >10</text>
<line x1="371" y1="201.5" x2="579.5" y2="201.5" stroke="#222" stroke-width="1"/>
<line x1="372" y1="162" x2="573" y2="162" stroke="#f3bcc4" stroke-opacity="0.45" stroke-width="3.8" stroke-dasharray="4.6 2.3"/>
<line x1="372" y1="162" x2="573" y2="162" stroke="#a5505a" stroke-width="1.35" stroke-dasharray="4.6 2.3"/>
<line x1="372" y1="172.5" x2="573" y2="172.5" stroke="#111" stroke-width="1.8" stroke-dasharray="4.6 2.3"/>
<path d="M372.00,165.50 L375.50,164.00 L378.50,162.00 L381.50,160.00 L384.50,159.50 L387.50,160.50 L390.50,163.00 L393.50,164.50 L396.50,166.25 L399.50,168.75 L402.50,169.50 L405.50,168.75 L408.50,170.75 L411.50,172.00 L414.50,171.25 L417.50,169.50 L420.50,167.00 L423.50,164.50 L426.50,162.50 L429.50,163.75 L432.50,163.00 L435.50,161.25 L438.50,158.75 L441.50,157.50 L444.50,158.00 L447.50,159.50 L450.50,160.50 L453.50,160.00 L456.50,160.75 L459.50,161.25 L462.50,161.50 L465.50,161.50 L468.50,160.50 L471.50,158.75 L474.50,157.00 L477.50,156.25 L480.00,156.25 L483.00,156.25 L486.00,156.25 L489.00,152.50 L492.00,147.50 L495.00,143.75 L498.00,142.50 L501.00,143.00 L504.00,143.25 L507.00,141.25 L510.00,138.75 L513.00,136.25 L516.00,133.75 L519.00,130.50 L522.00,128.00 L525.00,128.00 L528.00,129.50 L531.00,129.50 L534.00,128.00 L537.00,125.50 L540.00,121.25 L543.00,116.25 L546.00,111.25 L549.00,106.25 L552.00,102.50 L555.00,100.50 L558.00,99.50 L561.00,98.75 L564.00,98.75 L567.00,98.00 L569.00,95.00 L571.00,88.75 L573.00,85.00" fill="none" stroke="#0b1220" stroke-width="2.3" stroke-linejoin="round" stroke-linecap="round"/>
<path d="M372.00,151.50 L375.50,150.00 L378.50,146.25 L381.50,143.25 L384.50,145.00 L387.50,149.50 L390.50,155.00 L393.50,157.50 L396.50,161.25 L399.50,166.25 L402.50,165.00 L405.50,164.50 L408.50,167.00 L411.50,166.25 L414.50,163.75 L417.50,158.75 L420.50,153.75 L423.50,150.50 L426.50,150.00 L429.50,153.75 L432.50,156.25 L435.50,155.00 L438.50,149.50 L441.50,144.50 L444.50,146.25 L447.50,148.75 L450.50,151.25 L453.50,148.25 L456.50,149.50 L459.50,150.75 L462.50,152.50 L465.50,153.75 L468.50,155.00 L471.50,152.50 L474.50,150.50 L477.50,150.00 L480.00,151.25 L483.00,153.25 L486.00,153.75 L489.00,147.50 L492.00,141.25 L495.00,134.50 L498.00,129.50 L501.00,128.25 L504.00,128.00 L507.00,127.00 L510.00,129.50 L513.00,131.25 L516.00,128.00 L519.00,122.00 L522.00,117.00 L525.00,120.00 L528.00,122.50 L531.00,123.25 L534.00,124.50 L537.00,123.75 L540.00,118.75 L543.00,114.50 L546.00,112.50 L549.00,116.25 L552.00,116.75 L555.00,115.00 L557.50,107.50 L560.50,100.00 L563.50,97.50 L566.50,97.00 L569.50,93.75 L571.00,85.00 L573.00,78.00" fill="none" stroke="#f3bcc4" stroke-width="4.8" stroke-opacity="0.6" stroke-linejoin="round" stroke-linecap="round"/>
<path d="M372.00,151.50 L375.50,150.00 L378.50,146.25 L381.50,143.25 L384.50,145.00 L387.50,149.50 L390.50,155.00 L393.50,157.50 L396.50,161.25 L399.50,166.25 L402.50,165.00 L405.50,164.50 L408.50,167.00 L411.50,166.25 L414.50,163.75 L417.50,158.75 L420.50,153.75 L423.50,150.50 L426.50,150.00 L429.50,153.75 L432.50,156.25 L435.50,155.00 L438.50,149.50 L441.50,144.50 L444.50,146.25 L447.50,148.75 L450.50,151.25 L453.50,148.25 L456.50,149.50 L459.50,150.75 L462.50,152.50 L465.50,153.75 L468.50,155.00 L471.50,152.50 L474.50,150.50 L477.50,150.00 L480.00,151.25 L483.00,153.25 L486.00,153.75 L489.00,147.50 L492.00,141.25 L495.00,134.50 L498.00,129.50 L501.00,128.25 L504.00,128.00 L507.00,127.00 L510.00,129.50 L513.00,131.25 L516.00,128.00 L519.00,122.00 L522.00,117.00 L525.00,120.00 L528.00,122.50 L531.00,123.25 L534.00,124.50 L537.00,123.75 L540.00,118.75 L543.00,114.50 L546.00,112.50 L549.00,116.25 L552.00,116.75 L555.00,115.00 L557.50,107.50 L560.50,100.00 L563.50,97.50 L566.50,97.00 L569.50,93.75 L571.00,85.00 L573.00,78.00" fill="none" stroke="#9d474f" stroke-width="1.7" stroke-linejoin="round" stroke-linecap="round"/>
<line x1="411.2" y1="63.9" x2="420.3" y2="63.9" stroke="#111" stroke-width="2.2"/>
<text x="420.4" y="68.2" class="a" text-anchor="start" >Gold</text>
<line x1="458.7" y1="63.9" x2="467.8" y2="63.9" stroke="#b5525e" stroke-width="1.5"/>
<text x="467.9" y="68.2" class="a" text-anchor="start" >Silver (RHS)</text>
<text class="a" text-anchor="end" transform="translate(377.05,209.5) rotate(-90)">Jan-22</text>
<text class="a" text-anchor="end" transform="translate(399.55,209.5) rotate(-90)">Jun-22</text>
<text class="a" text-anchor="end" transform="translate(427.05,209.5) rotate(-90)">Dec-22</text>
<text class="a" text-anchor="end" transform="translate(449.55,209.5) rotate(-90)">May-23</text>
<text class="a" text-anchor="end" transform="translate(477.05,209.5) rotate(-90)">Nov-23</text>
<text class="a" text-anchor="end" transform="translate(499.55,209.5) rotate(-90)">Apr-24</text>
<text class="a" text-anchor="end" transform="translate(526.8,209.5) rotate(-90)">Oct-24</text>
<text class="a" text-anchor="end" transform="translate(554.55,209.5) rotate(-90)">Apr-25</text>
<text class="a" text-anchor="end" transform="translate(576.8,209.5) rotate(-90)">Sep-25</text>
<text x="25.5" y="291.5" class="t" text-anchor="start" >E. Food and beverage commodity</text>
<text x="25.5" y="310" class="t" text-anchor="start" >prices</text>
<text x="28.4" y="339.3" class="a" text-anchor="start" style="font-size:12.15px">Index, 100 = 2010</text>
<text x="46.3" y="355.0" class="a" text-anchor="end" >250</text>
<text x="46.3" y="386.25" class="a" text-anchor="end" >200</text>
<text x="46.3" y="417.5" class="a" text-anchor="end" >150</text>
<text x="46.3" y="448.75" class="a" text-anchor="end" >100</text>
<text x="46.3" y="480.0" class="a" text-anchor="end" >50</text>
<text x="46.3" y="511.25" class="a" text-anchor="end" >0</text>
<rect x="67.5" y="449.25" width="9.1" height="57.75" fill="#0c1d3a"/>
<rect x="76.6" y="457.00" width="9.4" height="50.00" fill="#db2937"/>
<rect x="107" y="431.75" width="9.1" height="75.25" fill="#0c1d3a"/>
<rect x="116.1" y="448.75" width="9.4" height="58.25" fill="#db2937"/>
<rect x="147" y="421.38" width="9.1" height="85.62" fill="#0c1d3a"/>
<rect x="156.1" y="440.75" width="9.4" height="66.25" fill="#db2937"/>
<rect x="186.5" y="429.25" width="9.1" height="77.75" fill="#0c1d3a"/>
<rect x="195.6" y="440.00" width="9.4" height="67.00" fill="#db2937"/>
<rect x="226.1" y="435.00" width="9.1" height="72.00" fill="#0c1d3a"/>
<rect x="235.2" y="396.75" width="9.4" height="110.25" fill="#db2937"/>
<rect x="265.8" y="438.75" width="9.1" height="68.25" fill="#0c1d3a"/>
<rect x="274.90000000000003" y="372.50" width="9.4" height="134.50" fill="#db2937"/>
<line x1="76.5" y1="445" x2="284" y2="445" stroke="#222" stroke-width="1.1"/>
<line x1="57" y1="507.3" x2="295" y2="507.3" stroke="#444" stroke-width="1.1"/>
<rect x="172.5" y="341.2" width="5.8" height="5.8" fill="#0c1d3a"/>
<text x="181.7" y="348.6" class="a" text-anchor="start" >Food</text>
<rect x="219.3" y="341.2" width="5.8" height="5.8" fill="#db2937"/>
<text x="228.7" y="348.6" class="a" text-anchor="start" >Beverages</text>
<text x="76.25" y="526" class="a" text-anchor="middle" >2020</text>
<text x="116" y="526" class="a" text-anchor="middle" >2021</text>
<text x="156" y="526" class="a" text-anchor="middle" >2022</text>
<text x="195.5" y="526" class="a" text-anchor="middle" >2023</text>
<text x="235.1" y="526" class="a" text-anchor="middle" >2024</text>
<text x="274.9" y="526" class="a" text-anchor="middle" >2025</text>
<text x="329.2" y="291.5" class="t" text-anchor="start" style="font-size:15.25px">F. Benchmark soybean prices</text>
<text x="331.3" y="334.4" class="a" text-anchor="start" >US$/mt</text>
<text x="329.5" y="350.0" class="a" text-anchor="start" >450</text>
<text x="329.5" y="392.9" class="a" text-anchor="start" >425</text>
<text x="329.5" y="435.8" class="a" text-anchor="start" >400</text>
<text x="329.5" y="478.7" class="a" text-anchor="start" >375</text>
<line x1="360.5" y1="474.6" x2="598" y2="474.6" stroke="#444" stroke-width="1"/>
<path d="M361.00,416.25 L362.50,418.75 L364.00,430.00 L366.00,440.00 L368.00,447.00 L369.50,437.50 L371.00,422.50 L372.50,416.25 L374.50,412.50 L376.50,408.75 L378.50,409.50 L380.50,410.00 L382.50,408.75 L384.50,410.00 L386.50,405.00 L388.50,401.25 L390.50,399.50 L392.50,400.00 L394.50,403.75 L396.50,406.25 L398.50,405.50 L400.50,407.00 L402.50,410.50 L404.50,408.75 L406.50,405.50 L408.50,400.00 L410.50,393.75 L411.50,392.50 L413.00,396.25 L415.00,401.25 L417.00,403.75 L419.00,402.50 L421.00,398.75 L423.00,397.50 L425.00,398.75 L427.00,402.50 L429.00,406.25 L430.00,408.75 L432.50,411.88 L435.62,415.00 L437.50,406.88 L440.00,404.38 L442.50,402.50 L445.00,403.12 L446.00,405.62 L447.50,403.12 L450.00,400.62 L451.88,392.50 L453.75,391.50 L455.62,393.12 L458.12,395.62 L460.00,398.75 L461.25,407.50 L462.75,417.50 L464.38,423.12 L466.25,422.50 L468.12,421.25 L469.38,416.25 L470.62,408.75 L471.88,401.25 L473.12,398.12 L474.38,397.50 L475.62,399.38 L476.88,406.25 L478.12,415.62 L479.38,421.25 L481.25,423.50 L483.12,423.12 L485.00,425.00 L486.25,421.88 L487.50,415.62 L488.75,408.12 L490.00,405.62 L491.88,405.62 L493.12,408.12 L494.38,415.00 L495.62,420.00 L497.50,420.62 L499.38,418.12 L501.25,417.50 L502.50,423.75 L503.75,432.50 L505.00,441.25 L506.88,443.12 L509.38,445.62 L511.50,447.00 L513.50,448.00 L515.00,447.50 L516.50,443.75 L518.00,437.50 L519.50,428.75 L521.00,422.50 L523.00,420.50 L525.00,421.25 L527.00,422.50 L528.50,423.00 L530.00,417.50 L532.00,415.50 L534.00,415.00 L536.00,417.00 L537.50,413.75 L539.50,410.00 L541.50,408.00 L543.00,407.00 L544.50,411.25 L546.00,415.00 L547.50,420.00 L549.50,420.50 L551.50,421.25 L553.50,422.00 L555.00,419.50 L557.00,415.50 L559.00,412.00 L560.50,411.25 L562.00,413.75 L563.50,417.50 L565.00,422.50 L567.00,426.25 L568.50,431.25 L570.00,436.25 L572.00,436.25 L574.00,435.50 L576.00,435.00 L578.00,437.00 L580.00,432.50 L582.00,431.25 L584.00,431.25 L586.00,428.75 L587.50,423.75 L589.00,422.50 L590.50,424.50 L592.50,427.00 L594.50,429.50 L596.50,428.00 L598.00,425.50" fill="none" stroke="#111111" stroke-width="2.3" stroke-linejoin="round" stroke-linecap="round"/>
<path d="M360.50,430.00 L362.00,433.75 L364.00,436.25 L366.00,437.50 L367.50,435.00 L369.00,430.00 L370.50,425.00 L372.50,423.75 L374.50,424.50 L376.50,426.25 L377.50,428.75 L379.00,425.00 L381.00,423.25 L383.00,423.75 L385.00,425.00 L387.00,424.50 L389.00,424.00 L391.00,425.00 L393.00,424.50 L395.00,426.25 L396.50,430.00 L398.00,429.50 L400.00,430.50 L402.00,433.75 L404.00,439.50 L406.00,440.50 L408.00,438.00 L409.50,431.25 L411.00,427.00 L412.50,430.50 L414.50,433.75 L416.50,437.50 L418.50,439.50 L420.00,437.50 L422.00,433.75 L424.00,432.00 L426.00,432.50 L428.00,430.00 L430.00,435.00 L431.88,431.25 L433.75,427.50 L435.62,423.75 L437.50,424.38 L439.38,421.88 L441.25,420.00 L443.12,418.75 L445.00,417.50 L446.88,413.75 L448.75,410.62 L450.62,406.88 L452.50,402.50 L454.38,398.75 L455.62,396.25 L456.88,395.62 L458.12,396.88 L460.00,400.00 L461.25,405.00 L462.50,410.62 L463.75,415.00 L465.62,418.12 L467.50,418.50 L468.75,416.88 L470.00,410.00 L471.25,402.50 L472.50,397.50 L473.75,396.25 L475.25,396.00 L476.50,398.75 L477.75,404.38 L479.00,408.12 L480.25,406.88 L481.88,405.62 L483.50,406.25 L485.00,408.12 L486.25,410.00 L487.50,409.38 L488.50,405.62 L489.75,401.88 L491.25,400.62 L493.12,400.00 L495.00,401.25 L496.88,403.75 L498.75,406.25 L500.62,408.75 L502.50,411.25 L504.38,413.75 L506.25,414.38 L508.12,411.88 L509.88,408.12 L512.00,400.00 L514.00,393.75 L516.00,390.00 L518.00,385.00 L520.00,377.50 L522.00,368.75 L523.50,365.50 L525.00,367.50 L527.00,366.25 L529.00,365.50 L531.00,365.00 L533.00,364.50 L535.00,363.75 L537.00,363.00 L539.00,365.50 L541.00,368.75 L543.00,372.50 L545.00,376.25 L546.50,377.50 L548.00,375.00 L550.00,371.25 L552.00,367.50 L554.00,365.00 L556.00,361.25 L558.00,358.75 L559.50,357.50 L561.00,362.50 L562.50,367.50 L564.50,372.50 L566.50,376.25 L568.00,382.50 L569.50,386.25 L571.50,385.00 L573.00,388.75 L575.00,392.50 L576.50,397.50 L578.00,401.25 L579.50,400.00 L581.00,396.25 L583.00,393.75 L585.00,391.25 L587.00,387.50 L589.00,386.25 L591.00,388.00 L593.00,390.00 L595.00,388.75 L596.50,385.00 L598.00,381.25" fill="none" stroke="#f3bcc4" stroke-width="4.8" stroke-opacity="0.6" stroke-linejoin="round" stroke-linecap="round"/>
<path d="M360.50,430.00 L362.00,433.75 L364.00,436.25 L366.00,437.50 L367.50,435.00 L369.00,430.00 L370.50,425.00 L372.50,423.75 L374.50,424.50 L376.50,426.25 L377.50,428.75 L379.00,425.00 L381.00,423.25 L383.00,423.75 L385.00,425.00 L387.00,424.50 L389.00,424.00 L391.00,425.00 L393.00,424.50 L395.00,426.25 L396.50,430.00 L398.00,429.50 L400.00,430.50 L402.00,433.75 L404.00,439.50 L406.00,440.50 L408.00,438.00 L409.50,431.25 L411.00,427.00 L412.50,430.50 L414.50,433.75 L416.50,437.50 L418.50,439.50 L420.00,437.50 L422.00,433.75 L424.00,432.00 L426.00,432.50 L428.00,430.00 L430.00,435.00 L431.88,431.25 L433.75,427.50 L435.62,423.75 L437.50,424.38 L439.38,421.88 L441.25,420.00 L443.12,418.75 L445.00,417.50 L446.88,413.75 L448.75,410.62 L450.62,406.88 L452.50,402.50 L454.38,398.75 L455.62,396.25 L456.88,395.62 L458.12,396.88 L460.00,400.00 L461.25,405.00 L462.50,410.62 L463.75,415.00 L465.62,418.12 L467.50,418.50 L468.75,416.88 L470.00,410.00 L471.25,402.50 L472.50,397.50 L473.75,396.25 L475.25,396.00 L476.50,398.75 L477.75,404.38 L479.00,408.12 L480.25,406.88 L481.88,405.62 L483.50,406.25 L485.00,408.12 L486.25,410.00 L487.50,409.38 L488.50,405.62 L489.75,401.88 L491.25,400.62 L493.12,400.00 L495.00,401.25 L496.88,403.75 L498.75,406.25 L500.62,408.75 L502.50,411.25 L504.38,413.75 L506.25,414.38 L508.12,411.88 L509.88,408.12 L512.00,400.00 L514.00,393.75 L516.00,390.00 L518.00,385.00 L520.00,377.50 L522.00,368.75 L523.50,365.50 L525.00,367.50 L527.00,366.25 L529.00,365.50 L531.00,365.00 L533.00,364.50 L535.00,363.75 L537.00,363.00 L539.00,365.50 L541.00,368.75 L543.00,372.50 L545.00,376.25 L546.50,377.50 L548.00,375.00 L550.00,371.25 L552.00,367.50 L554.00,365.00 L556.00,361.25 L558.00,358.75 L559.50,357.50 L561.00,362.50 L562.50,367.50 L564.50,372.50 L566.50,376.25 L568.00,382.50 L569.50,386.25 L571.50,385.00 L573.00,388.75 L575.00,392.50 L576.50,397.50 L578.00,401.25 L579.50,400.00 L581.00,396.25 L583.00,393.75 L585.00,391.25 L587.00,387.50 L589.00,386.25 L591.00,388.00 L593.00,390.00 L595.00,388.75 L596.50,385.00 L598.00,381.25" fill="none" stroke="#a3444e" stroke-width="1.7" stroke-linejoin="round" stroke-linecap="round"/>
<line x1="450.7" y1="330.3" x2="460" y2="330.3" stroke="#111" stroke-width="2.1"/>
<text x="460" y="334.4" class="a" text-anchor="start" style="font-size:12.25px">U.S. soybeans</text>
<line x1="450.7" y1="346.6" x2="460" y2="346.6" stroke="#b5525e" stroke-width="1.5"/>
<text x="460" y="350.8" class="a" text-anchor="start" style="font-size:12.3px">Brazil soybeans</text>
<text class="a" text-anchor="end" transform="translate(365.3,482.8) rotate(-90)">Apr-25</text>
<text class="a" text-anchor="end" transform="translate(400.8,482.8) rotate(-90)">May-25</text>
<text class="a" text-anchor="end" transform="translate(437.05,482.8) rotate(-90)">Jun-25</text>
<text class="a" text-anchor="end" transform="translate(473.3,482.8) rotate(-90)">Jul-25</text>
<text class="a" text-anchor="end" transform="translate(509.3,482.8) rotate(-90)">Aug-25</text>
<text class="a" text-anchor="end" transform="translate(545.3,482.8) rotate(-90)">Sep-25</text>
<text class="a" text-anchor="end" transform="translate(581.3,482.8) rotate(-90)">Oct-25</text>
<text y="572.8" class="s"><tspan x="24.3" font-style="italic">Sources</tspan>:<tspan x="92.9">Bloomberg;</tspan><tspan x="179.8">International</tspan><tspan x="274.3">Energy</tspan><tspan x="330.3">Agency</tspan><tspan x="388.4">(IEA);</tspan><tspan x="434.2">World</tspan><tspan x="481.6">Bank.</tspan></text>
</svg></body></html>
